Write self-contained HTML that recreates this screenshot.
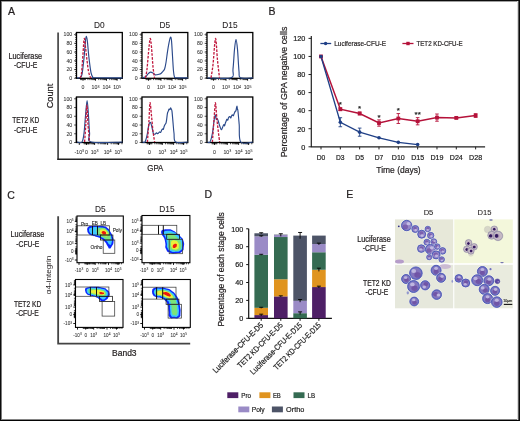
<!DOCTYPE html>
<html><head><meta charset="utf-8"><style>
html,body{margin:0;padding:0;background:#fff;}
svg{display:block;font-family:"Liberation Sans", sans-serif;will-change:transform;}
</style></head><body>
<svg width="520" height="421" viewBox="0 0 520 421">
<rect x="0" y="0" width="520" height="421" fill="#fff"/>
<text x="8.00" y="14.80" font-size="10.5" text-anchor="start" fill="#231f20" stroke="#231f20" stroke-width="0.22" >A</text>
<text x="99.40" y="27.80" font-size="8.3" text-anchor="middle" fill="#231f20" stroke="#231f20" stroke-width="0.08" >D0</text>
<text x="164.90" y="27.80" font-size="8.3" text-anchor="middle" fill="#231f20" stroke="#231f20" stroke-width="0.08" >D5</text>
<text x="229.90" y="27.80" font-size="8.3" text-anchor="middle" fill="#231f20" stroke="#231f20" stroke-width="0.08" >D15</text>
<text x="25.30" y="58.50" font-size="8.2" text-anchor="middle" fill="#231f20" stroke="#231f20" stroke-width="0.22" textLength="33.60" lengthAdjust="spacingAndGlyphs" >Luciferase</text>
<text x="25.70" y="68.40" font-size="8.2" text-anchor="middle" fill="#231f20" stroke="#231f20" stroke-width="0.22" textLength="23.20" lengthAdjust="spacingAndGlyphs" >-CFU-E</text>
<text x="25.70" y="123.00" font-size="8.2" text-anchor="middle" fill="#231f20" stroke="#231f20" stroke-width="0.22" textLength="27.00" lengthAdjust="spacingAndGlyphs" >TET2 KD</text>
<text x="25.70" y="132.90" font-size="8.2" text-anchor="middle" fill="#231f20" stroke="#231f20" stroke-width="0.22" textLength="23.20" lengthAdjust="spacingAndGlyphs" >-CFU-E</text>
<text x="53.40" y="96.00" font-size="9.2" text-anchor="middle" fill="#231f20" stroke="#231f20" stroke-width="0.22" transform="rotate(-90 53.40 96.00)" >Count</text>
<line x1="58.10" y1="32.50" x2="58.10" y2="159.90" stroke="#505050" stroke-width="1.8" />
<line x1="57.40" y1="159.20" x2="252.80" y2="159.20" stroke="#202020" stroke-width="1.4" />
<text x="155.30" y="171.00" font-size="9.2" text-anchor="middle" fill="#231f20" stroke="#231f20" stroke-width="0.22" textLength="16.00" lengthAdjust="spacingAndGlyphs" >GPA</text>
<text x="72.20" y="36.40" font-size="5.2" text-anchor="end" fill="#333" stroke="#333" stroke-width="0.06" >100</text>
<line x1="74.10" y1="34.60" x2="76.50" y2="34.60" stroke="#111" stroke-width="0.7" />
<text x="72.20" y="45.14" font-size="5.2" text-anchor="end" fill="#333" stroke="#333" stroke-width="0.06" >80</text>
<line x1="74.10" y1="43.34" x2="76.50" y2="43.34" stroke="#111" stroke-width="0.7" />
<text x="72.20" y="53.88" font-size="5.2" text-anchor="end" fill="#333" stroke="#333" stroke-width="0.06" >60</text>
<line x1="74.10" y1="52.08" x2="76.50" y2="52.08" stroke="#111" stroke-width="0.7" />
<text x="72.20" y="62.62" font-size="5.2" text-anchor="end" fill="#333" stroke="#333" stroke-width="0.06" >40</text>
<line x1="74.10" y1="60.82" x2="76.50" y2="60.82" stroke="#111" stroke-width="0.7" />
<text x="72.20" y="71.36" font-size="5.2" text-anchor="end" fill="#333" stroke="#333" stroke-width="0.06" >20</text>
<line x1="74.10" y1="69.56" x2="76.50" y2="69.56" stroke="#111" stroke-width="0.7" />
<text x="72.20" y="80.10" font-size="5.2" text-anchor="end" fill="#333" stroke="#333" stroke-width="0.06" >0</text>
<line x1="74.10" y1="78.30" x2="76.50" y2="78.30" stroke="#111" stroke-width="0.7" />
<line x1="75.00" y1="33.50" x2="76.50" y2="33.50" stroke="#111" stroke-width="0.55" />
<line x1="75.00" y1="35.50" x2="76.50" y2="35.50" stroke="#111" stroke-width="0.55" />
<line x1="75.00" y1="37.50" x2="76.50" y2="37.50" stroke="#111" stroke-width="0.55" />
<line x1="75.00" y1="39.50" x2="76.50" y2="39.50" stroke="#111" stroke-width="0.55" />
<line x1="75.00" y1="41.50" x2="76.50" y2="41.50" stroke="#111" stroke-width="0.55" />
<line x1="75.00" y1="43.50" x2="76.50" y2="43.50" stroke="#111" stroke-width="0.55" />
<line x1="75.00" y1="45.50" x2="76.50" y2="45.50" stroke="#111" stroke-width="0.55" />
<line x1="75.00" y1="47.50" x2="76.50" y2="47.50" stroke="#111" stroke-width="0.55" />
<line x1="75.00" y1="49.50" x2="76.50" y2="49.50" stroke="#111" stroke-width="0.55" />
<line x1="75.00" y1="51.50" x2="76.50" y2="51.50" stroke="#111" stroke-width="0.55" />
<line x1="75.00" y1="53.50" x2="76.50" y2="53.50" stroke="#111" stroke-width="0.55" />
<line x1="75.00" y1="55.50" x2="76.50" y2="55.50" stroke="#111" stroke-width="0.55" />
<line x1="75.00" y1="57.50" x2="76.50" y2="57.50" stroke="#111" stroke-width="0.55" />
<line x1="75.00" y1="59.50" x2="76.50" y2="59.50" stroke="#111" stroke-width="0.55" />
<line x1="75.00" y1="61.50" x2="76.50" y2="61.50" stroke="#111" stroke-width="0.55" />
<line x1="75.00" y1="63.50" x2="76.50" y2="63.50" stroke="#111" stroke-width="0.55" />
<line x1="75.00" y1="65.50" x2="76.50" y2="65.50" stroke="#111" stroke-width="0.55" />
<line x1="75.00" y1="67.50" x2="76.50" y2="67.50" stroke="#111" stroke-width="0.55" />
<line x1="75.00" y1="69.50" x2="76.50" y2="69.50" stroke="#111" stroke-width="0.55" />
<line x1="75.00" y1="71.50" x2="76.50" y2="71.50" stroke="#111" stroke-width="0.55" />
<line x1="75.00" y1="73.50" x2="76.50" y2="73.50" stroke="#111" stroke-width="0.55" />
<line x1="75.00" y1="75.50" x2="76.50" y2="75.50" stroke="#111" stroke-width="0.55" />
<line x1="75.00" y1="77.50" x2="76.50" y2="77.50" stroke="#111" stroke-width="0.55" />
<line x1="83.00" y1="78.30" x2="83.00" y2="80.70" stroke="#000" stroke-width="0.9" />
<line x1="80.60" y1="78.30" x2="80.60" y2="80.10" stroke="#000" stroke-width="0.7" />
<line x1="81.40" y1="78.30" x2="81.40" y2="80.10" stroke="#000" stroke-width="0.7" />
<line x1="82.20" y1="78.30" x2="82.20" y2="80.10" stroke="#000" stroke-width="0.7" />
<line x1="83.80" y1="78.30" x2="83.80" y2="80.10" stroke="#000" stroke-width="0.7" />
<line x1="84.60" y1="78.30" x2="84.60" y2="80.10" stroke="#000" stroke-width="0.7" />
<line x1="85.40" y1="78.30" x2="85.40" y2="80.10" stroke="#000" stroke-width="0.7" />
<line x1="95.50" y1="78.30" x2="95.50" y2="80.70" stroke="#000" stroke-width="0.9" />
<line x1="106.50" y1="78.30" x2="106.50" y2="80.70" stroke="#000" stroke-width="0.9" />
<line x1="117.10" y1="78.30" x2="117.10" y2="80.70" stroke="#000" stroke-width="0.9" />
<line x1="87.95" y1="78.30" x2="87.95" y2="80.10" stroke="#000" stroke-width="0.7" />
<line x1="89.85" y1="78.30" x2="89.85" y2="80.10" stroke="#000" stroke-width="0.7" />
<line x1="91.20" y1="78.30" x2="91.20" y2="80.10" stroke="#000" stroke-width="0.7" />
<line x1="92.25" y1="78.30" x2="92.25" y2="80.10" stroke="#000" stroke-width="0.7" />
<line x1="93.10" y1="78.30" x2="93.10" y2="80.10" stroke="#000" stroke-width="0.7" />
<line x1="93.83" y1="78.30" x2="93.83" y2="80.10" stroke="#000" stroke-width="0.7" />
<line x1="94.45" y1="78.30" x2="94.45" y2="80.10" stroke="#000" stroke-width="0.7" />
<line x1="95.01" y1="78.30" x2="95.01" y2="80.10" stroke="#000" stroke-width="0.7" />
<line x1="98.75" y1="78.30" x2="98.75" y2="80.10" stroke="#000" stroke-width="0.7" />
<line x1="100.65" y1="78.30" x2="100.65" y2="80.10" stroke="#000" stroke-width="0.7" />
<line x1="102.00" y1="78.30" x2="102.00" y2="80.10" stroke="#000" stroke-width="0.7" />
<line x1="103.05" y1="78.30" x2="103.05" y2="80.10" stroke="#000" stroke-width="0.7" />
<line x1="103.90" y1="78.30" x2="103.90" y2="80.10" stroke="#000" stroke-width="0.7" />
<line x1="104.63" y1="78.30" x2="104.63" y2="80.10" stroke="#000" stroke-width="0.7" />
<line x1="105.25" y1="78.30" x2="105.25" y2="80.10" stroke="#000" stroke-width="0.7" />
<line x1="105.81" y1="78.30" x2="105.81" y2="80.10" stroke="#000" stroke-width="0.7" />
<line x1="109.75" y1="78.30" x2="109.75" y2="80.10" stroke="#000" stroke-width="0.7" />
<line x1="111.65" y1="78.30" x2="111.65" y2="80.10" stroke="#000" stroke-width="0.7" />
<line x1="113.00" y1="78.30" x2="113.00" y2="80.10" stroke="#000" stroke-width="0.7" />
<line x1="114.05" y1="78.30" x2="114.05" y2="80.10" stroke="#000" stroke-width="0.7" />
<line x1="114.90" y1="78.30" x2="114.90" y2="80.10" stroke="#000" stroke-width="0.7" />
<line x1="115.63" y1="78.30" x2="115.63" y2="80.10" stroke="#000" stroke-width="0.7" />
<line x1="116.25" y1="78.30" x2="116.25" y2="80.10" stroke="#000" stroke-width="0.7" />
<line x1="116.81" y1="78.30" x2="116.81" y2="80.10" stroke="#000" stroke-width="0.7" />
<line x1="120.35" y1="78.30" x2="120.35" y2="80.10" stroke="#000" stroke-width="0.7" />
<text x="83.00" y="89.30" font-size="5.2" text-anchor="middle" fill="#333" stroke="#333" stroke-width="0.06" >0</text>
<text x="95.50" y="89.30" font-size="5.2" text-anchor="middle" fill="#333" stroke="#333" stroke-width="0.06" >10<tspan font-size="70%" dy="-1.6">3</tspan></text>
<text x="106.50" y="89.30" font-size="5.2" text-anchor="middle" fill="#333" stroke="#333" stroke-width="0.06" >10<tspan font-size="70%" dy="-1.6">4</tspan></text>
<text x="117.10" y="89.30" font-size="5.2" text-anchor="middle" fill="#333" stroke="#333" stroke-width="0.06" >10<tspan font-size="70%" dy="-1.6">5</tspan></text>
<rect x="76.50" y="32.50" width="45.80" height="45.80" fill="none" stroke="#000" stroke-width="1.3" />
<path d="M77.00,77.80 C77.50,77.76 79.17,78.16 80.00,77.58 C80.83,77.00 81.33,77.55 82.00,74.30 C82.67,71.06 83.42,63.74 84.00,58.13 C84.58,52.53 85.12,44.30 85.50,40.65 C85.88,37.01 86.00,36.28 86.30,36.28 C86.60,36.28 86.85,37.01 87.30,40.65 C87.75,44.30 88.38,52.82 89.00,58.13 C89.62,63.45 90.33,69.35 91.00,72.56 C91.67,75.76 92.33,76.49 93.00,77.36 C93.67,78.24 90.08,77.73 95.00,77.80 C99.92,77.87 117.92,77.80 122.50,77.80" fill="none" stroke="#2b4a8b" stroke-width="1.15"/>
<path d="M80.00,77.80 C80.25,77.07 81.00,77.44 81.50,73.43 C82.00,69.42 82.55,59.59 83.00,53.77 C83.45,47.94 83.78,39.56 84.20,38.47 C84.62,37.38 85.03,43.57 85.50,47.21 C85.97,50.85 86.50,56.31 87.00,60.32 C87.50,64.33 88.00,68.55 88.50,71.25 C89.00,73.94 89.58,75.40 90.00,76.49 C90.42,77.58 90.83,77.58 91.00,77.80" fill="none" stroke="#c0163c" stroke-width="1.3" stroke-dasharray="2.6 1.3"/>
<text x="137.70" y="36.40" font-size="5.2" text-anchor="end" fill="#333" stroke="#333" stroke-width="0.06" >100</text>
<line x1="139.60" y1="34.60" x2="142.00" y2="34.60" stroke="#111" stroke-width="0.7" />
<text x="137.70" y="45.14" font-size="5.2" text-anchor="end" fill="#333" stroke="#333" stroke-width="0.06" >80</text>
<line x1="139.60" y1="43.34" x2="142.00" y2="43.34" stroke="#111" stroke-width="0.7" />
<text x="137.70" y="53.88" font-size="5.2" text-anchor="end" fill="#333" stroke="#333" stroke-width="0.06" >60</text>
<line x1="139.60" y1="52.08" x2="142.00" y2="52.08" stroke="#111" stroke-width="0.7" />
<text x="137.70" y="62.62" font-size="5.2" text-anchor="end" fill="#333" stroke="#333" stroke-width="0.06" >40</text>
<line x1="139.60" y1="60.82" x2="142.00" y2="60.82" stroke="#111" stroke-width="0.7" />
<text x="137.70" y="71.36" font-size="5.2" text-anchor="end" fill="#333" stroke="#333" stroke-width="0.06" >20</text>
<line x1="139.60" y1="69.56" x2="142.00" y2="69.56" stroke="#111" stroke-width="0.7" />
<text x="137.70" y="80.10" font-size="5.2" text-anchor="end" fill="#333" stroke="#333" stroke-width="0.06" >0</text>
<line x1="139.60" y1="78.30" x2="142.00" y2="78.30" stroke="#111" stroke-width="0.7" />
<line x1="140.50" y1="33.50" x2="142.00" y2="33.50" stroke="#111" stroke-width="0.55" />
<line x1="140.50" y1="35.50" x2="142.00" y2="35.50" stroke="#111" stroke-width="0.55" />
<line x1="140.50" y1="37.50" x2="142.00" y2="37.50" stroke="#111" stroke-width="0.55" />
<line x1="140.50" y1="39.50" x2="142.00" y2="39.50" stroke="#111" stroke-width="0.55" />
<line x1="140.50" y1="41.50" x2="142.00" y2="41.50" stroke="#111" stroke-width="0.55" />
<line x1="140.50" y1="43.50" x2="142.00" y2="43.50" stroke="#111" stroke-width="0.55" />
<line x1="140.50" y1="45.50" x2="142.00" y2="45.50" stroke="#111" stroke-width="0.55" />
<line x1="140.50" y1="47.50" x2="142.00" y2="47.50" stroke="#111" stroke-width="0.55" />
<line x1="140.50" y1="49.50" x2="142.00" y2="49.50" stroke="#111" stroke-width="0.55" />
<line x1="140.50" y1="51.50" x2="142.00" y2="51.50" stroke="#111" stroke-width="0.55" />
<line x1="140.50" y1="53.50" x2="142.00" y2="53.50" stroke="#111" stroke-width="0.55" />
<line x1="140.50" y1="55.50" x2="142.00" y2="55.50" stroke="#111" stroke-width="0.55" />
<line x1="140.50" y1="57.50" x2="142.00" y2="57.50" stroke="#111" stroke-width="0.55" />
<line x1="140.50" y1="59.50" x2="142.00" y2="59.50" stroke="#111" stroke-width="0.55" />
<line x1="140.50" y1="61.50" x2="142.00" y2="61.50" stroke="#111" stroke-width="0.55" />
<line x1="140.50" y1="63.50" x2="142.00" y2="63.50" stroke="#111" stroke-width="0.55" />
<line x1="140.50" y1="65.50" x2="142.00" y2="65.50" stroke="#111" stroke-width="0.55" />
<line x1="140.50" y1="67.50" x2="142.00" y2="67.50" stroke="#111" stroke-width="0.55" />
<line x1="140.50" y1="69.50" x2="142.00" y2="69.50" stroke="#111" stroke-width="0.55" />
<line x1="140.50" y1="71.50" x2="142.00" y2="71.50" stroke="#111" stroke-width="0.55" />
<line x1="140.50" y1="73.50" x2="142.00" y2="73.50" stroke="#111" stroke-width="0.55" />
<line x1="140.50" y1="75.50" x2="142.00" y2="75.50" stroke="#111" stroke-width="0.55" />
<line x1="140.50" y1="77.50" x2="142.00" y2="77.50" stroke="#111" stroke-width="0.55" />
<line x1="148.50" y1="78.30" x2="148.50" y2="80.70" stroke="#000" stroke-width="0.9" />
<line x1="146.10" y1="78.30" x2="146.10" y2="80.10" stroke="#000" stroke-width="0.7" />
<line x1="146.90" y1="78.30" x2="146.90" y2="80.10" stroke="#000" stroke-width="0.7" />
<line x1="147.70" y1="78.30" x2="147.70" y2="80.10" stroke="#000" stroke-width="0.7" />
<line x1="149.30" y1="78.30" x2="149.30" y2="80.10" stroke="#000" stroke-width="0.7" />
<line x1="150.10" y1="78.30" x2="150.10" y2="80.10" stroke="#000" stroke-width="0.7" />
<line x1="150.90" y1="78.30" x2="150.90" y2="80.10" stroke="#000" stroke-width="0.7" />
<line x1="161.00" y1="78.30" x2="161.00" y2="80.70" stroke="#000" stroke-width="0.9" />
<line x1="172.00" y1="78.30" x2="172.00" y2="80.70" stroke="#000" stroke-width="0.9" />
<line x1="182.60" y1="78.30" x2="182.60" y2="80.70" stroke="#000" stroke-width="0.9" />
<line x1="153.45" y1="78.30" x2="153.45" y2="80.10" stroke="#000" stroke-width="0.7" />
<line x1="155.35" y1="78.30" x2="155.35" y2="80.10" stroke="#000" stroke-width="0.7" />
<line x1="156.70" y1="78.30" x2="156.70" y2="80.10" stroke="#000" stroke-width="0.7" />
<line x1="157.75" y1="78.30" x2="157.75" y2="80.10" stroke="#000" stroke-width="0.7" />
<line x1="158.60" y1="78.30" x2="158.60" y2="80.10" stroke="#000" stroke-width="0.7" />
<line x1="159.33" y1="78.30" x2="159.33" y2="80.10" stroke="#000" stroke-width="0.7" />
<line x1="159.95" y1="78.30" x2="159.95" y2="80.10" stroke="#000" stroke-width="0.7" />
<line x1="160.51" y1="78.30" x2="160.51" y2="80.10" stroke="#000" stroke-width="0.7" />
<line x1="164.25" y1="78.30" x2="164.25" y2="80.10" stroke="#000" stroke-width="0.7" />
<line x1="166.15" y1="78.30" x2="166.15" y2="80.10" stroke="#000" stroke-width="0.7" />
<line x1="167.50" y1="78.30" x2="167.50" y2="80.10" stroke="#000" stroke-width="0.7" />
<line x1="168.55" y1="78.30" x2="168.55" y2="80.10" stroke="#000" stroke-width="0.7" />
<line x1="169.40" y1="78.30" x2="169.40" y2="80.10" stroke="#000" stroke-width="0.7" />
<line x1="170.13" y1="78.30" x2="170.13" y2="80.10" stroke="#000" stroke-width="0.7" />
<line x1="170.75" y1="78.30" x2="170.75" y2="80.10" stroke="#000" stroke-width="0.7" />
<line x1="171.31" y1="78.30" x2="171.31" y2="80.10" stroke="#000" stroke-width="0.7" />
<line x1="175.25" y1="78.30" x2="175.25" y2="80.10" stroke="#000" stroke-width="0.7" />
<line x1="177.15" y1="78.30" x2="177.15" y2="80.10" stroke="#000" stroke-width="0.7" />
<line x1="178.50" y1="78.30" x2="178.50" y2="80.10" stroke="#000" stroke-width="0.7" />
<line x1="179.55" y1="78.30" x2="179.55" y2="80.10" stroke="#000" stroke-width="0.7" />
<line x1="180.40" y1="78.30" x2="180.40" y2="80.10" stroke="#000" stroke-width="0.7" />
<line x1="181.13" y1="78.30" x2="181.13" y2="80.10" stroke="#000" stroke-width="0.7" />
<line x1="181.75" y1="78.30" x2="181.75" y2="80.10" stroke="#000" stroke-width="0.7" />
<line x1="182.31" y1="78.30" x2="182.31" y2="80.10" stroke="#000" stroke-width="0.7" />
<line x1="185.85" y1="78.30" x2="185.85" y2="80.10" stroke="#000" stroke-width="0.7" />
<text x="148.50" y="89.30" font-size="5.2" text-anchor="middle" fill="#333" stroke="#333" stroke-width="0.06" >0</text>
<text x="161.00" y="89.30" font-size="5.2" text-anchor="middle" fill="#333" stroke="#333" stroke-width="0.06" >10<tspan font-size="70%" dy="-1.6">3</tspan></text>
<text x="172.00" y="89.30" font-size="5.2" text-anchor="middle" fill="#333" stroke="#333" stroke-width="0.06" >10<tspan font-size="70%" dy="-1.6">4</tspan></text>
<text x="182.60" y="89.30" font-size="5.2" text-anchor="middle" fill="#333" stroke="#333" stroke-width="0.06" >10<tspan font-size="70%" dy="-1.6">5</tspan></text>
<rect x="142.00" y="32.50" width="45.80" height="45.80" fill="none" stroke="#000" stroke-width="1.3" />
<path d="M142.50,77.80 C143.08,77.58 145.08,77.14 146.00,76.49 C146.92,75.83 147.25,74.60 148.00,73.87 C148.75,73.14 149.67,72.26 150.50,72.12 C151.33,71.97 152.25,72.56 153.00,72.99 C153.75,73.43 154.33,74.45 155.00,74.74 C155.67,75.03 156.33,74.81 157.00,74.74 C157.67,74.67 158.33,74.52 159.00,74.30 C159.67,74.09 160.33,73.94 161.00,73.43 C161.67,72.92 162.40,71.97 163.00,71.25 C163.60,70.52 164.10,70.52 164.60,69.06 C165.10,67.60 165.52,65.42 166.00,62.50 C166.48,59.59 167.00,54.86 167.50,51.58 C168.00,48.30 168.50,45.24 169.00,42.84 C169.50,40.44 170.08,37.52 170.50,37.16 C170.92,36.79 171.17,37.52 171.50,40.65 C171.83,43.79 172.17,50.85 172.50,55.95 C172.83,61.05 173.17,67.75 173.50,71.25 C173.83,74.74 174.08,75.83 174.50,76.93 C174.92,78.02 173.78,77.65 176.00,77.80 C178.22,77.95 185.83,77.80 187.80,77.80" fill="none" stroke="#2b4a8b" stroke-width="1.15"/>
<path d="M145.50,77.80 C145.75,76.34 146.42,74.16 147.00,69.06 C147.58,63.96 148.45,52.31 149.00,47.21 C149.55,42.11 149.88,38.47 150.30,38.47 C150.72,38.47 151.05,42.48 151.50,47.21 C151.95,51.94 152.50,61.78 153.00,66.88 C153.50,71.97 154.25,75.98 154.50,77.80" fill="none" stroke="#c0163c" stroke-width="1.3" stroke-dasharray="2.6 1.3"/>
<text x="202.70" y="36.40" font-size="5.2" text-anchor="end" fill="#333" stroke="#333" stroke-width="0.06" >100</text>
<line x1="204.60" y1="34.60" x2="207.00" y2="34.60" stroke="#111" stroke-width="0.7" />
<text x="202.70" y="45.14" font-size="5.2" text-anchor="end" fill="#333" stroke="#333" stroke-width="0.06" >80</text>
<line x1="204.60" y1="43.34" x2="207.00" y2="43.34" stroke="#111" stroke-width="0.7" />
<text x="202.70" y="53.88" font-size="5.2" text-anchor="end" fill="#333" stroke="#333" stroke-width="0.06" >60</text>
<line x1="204.60" y1="52.08" x2="207.00" y2="52.08" stroke="#111" stroke-width="0.7" />
<text x="202.70" y="62.62" font-size="5.2" text-anchor="end" fill="#333" stroke="#333" stroke-width="0.06" >40</text>
<line x1="204.60" y1="60.82" x2="207.00" y2="60.82" stroke="#111" stroke-width="0.7" />
<text x="202.70" y="71.36" font-size="5.2" text-anchor="end" fill="#333" stroke="#333" stroke-width="0.06" >20</text>
<line x1="204.60" y1="69.56" x2="207.00" y2="69.56" stroke="#111" stroke-width="0.7" />
<text x="202.70" y="80.10" font-size="5.2" text-anchor="end" fill="#333" stroke="#333" stroke-width="0.06" >0</text>
<line x1="204.60" y1="78.30" x2="207.00" y2="78.30" stroke="#111" stroke-width="0.7" />
<line x1="205.50" y1="33.50" x2="207.00" y2="33.50" stroke="#111" stroke-width="0.55" />
<line x1="205.50" y1="35.50" x2="207.00" y2="35.50" stroke="#111" stroke-width="0.55" />
<line x1="205.50" y1="37.50" x2="207.00" y2="37.50" stroke="#111" stroke-width="0.55" />
<line x1="205.50" y1="39.50" x2="207.00" y2="39.50" stroke="#111" stroke-width="0.55" />
<line x1="205.50" y1="41.50" x2="207.00" y2="41.50" stroke="#111" stroke-width="0.55" />
<line x1="205.50" y1="43.50" x2="207.00" y2="43.50" stroke="#111" stroke-width="0.55" />
<line x1="205.50" y1="45.50" x2="207.00" y2="45.50" stroke="#111" stroke-width="0.55" />
<line x1="205.50" y1="47.50" x2="207.00" y2="47.50" stroke="#111" stroke-width="0.55" />
<line x1="205.50" y1="49.50" x2="207.00" y2="49.50" stroke="#111" stroke-width="0.55" />
<line x1="205.50" y1="51.50" x2="207.00" y2="51.50" stroke="#111" stroke-width="0.55" />
<line x1="205.50" y1="53.50" x2="207.00" y2="53.50" stroke="#111" stroke-width="0.55" />
<line x1="205.50" y1="55.50" x2="207.00" y2="55.50" stroke="#111" stroke-width="0.55" />
<line x1="205.50" y1="57.50" x2="207.00" y2="57.50" stroke="#111" stroke-width="0.55" />
<line x1="205.50" y1="59.50" x2="207.00" y2="59.50" stroke="#111" stroke-width="0.55" />
<line x1="205.50" y1="61.50" x2="207.00" y2="61.50" stroke="#111" stroke-width="0.55" />
<line x1="205.50" y1="63.50" x2="207.00" y2="63.50" stroke="#111" stroke-width="0.55" />
<line x1="205.50" y1="65.50" x2="207.00" y2="65.50" stroke="#111" stroke-width="0.55" />
<line x1="205.50" y1="67.50" x2="207.00" y2="67.50" stroke="#111" stroke-width="0.55" />
<line x1="205.50" y1="69.50" x2="207.00" y2="69.50" stroke="#111" stroke-width="0.55" />
<line x1="205.50" y1="71.50" x2="207.00" y2="71.50" stroke="#111" stroke-width="0.55" />
<line x1="205.50" y1="73.50" x2="207.00" y2="73.50" stroke="#111" stroke-width="0.55" />
<line x1="205.50" y1="75.50" x2="207.00" y2="75.50" stroke="#111" stroke-width="0.55" />
<line x1="205.50" y1="77.50" x2="207.00" y2="77.50" stroke="#111" stroke-width="0.55" />
<line x1="213.50" y1="78.30" x2="213.50" y2="80.70" stroke="#000" stroke-width="0.9" />
<line x1="211.10" y1="78.30" x2="211.10" y2="80.10" stroke="#000" stroke-width="0.7" />
<line x1="211.90" y1="78.30" x2="211.90" y2="80.10" stroke="#000" stroke-width="0.7" />
<line x1="212.70" y1="78.30" x2="212.70" y2="80.10" stroke="#000" stroke-width="0.7" />
<line x1="214.30" y1="78.30" x2="214.30" y2="80.10" stroke="#000" stroke-width="0.7" />
<line x1="215.10" y1="78.30" x2="215.10" y2="80.10" stroke="#000" stroke-width="0.7" />
<line x1="215.90" y1="78.30" x2="215.90" y2="80.10" stroke="#000" stroke-width="0.7" />
<line x1="226.00" y1="78.30" x2="226.00" y2="80.70" stroke="#000" stroke-width="0.9" />
<line x1="237.00" y1="78.30" x2="237.00" y2="80.70" stroke="#000" stroke-width="0.9" />
<line x1="247.60" y1="78.30" x2="247.60" y2="80.70" stroke="#000" stroke-width="0.9" />
<line x1="218.45" y1="78.30" x2="218.45" y2="80.10" stroke="#000" stroke-width="0.7" />
<line x1="220.35" y1="78.30" x2="220.35" y2="80.10" stroke="#000" stroke-width="0.7" />
<line x1="221.70" y1="78.30" x2="221.70" y2="80.10" stroke="#000" stroke-width="0.7" />
<line x1="222.75" y1="78.30" x2="222.75" y2="80.10" stroke="#000" stroke-width="0.7" />
<line x1="223.60" y1="78.30" x2="223.60" y2="80.10" stroke="#000" stroke-width="0.7" />
<line x1="224.33" y1="78.30" x2="224.33" y2="80.10" stroke="#000" stroke-width="0.7" />
<line x1="224.95" y1="78.30" x2="224.95" y2="80.10" stroke="#000" stroke-width="0.7" />
<line x1="225.51" y1="78.30" x2="225.51" y2="80.10" stroke="#000" stroke-width="0.7" />
<line x1="229.25" y1="78.30" x2="229.25" y2="80.10" stroke="#000" stroke-width="0.7" />
<line x1="231.15" y1="78.30" x2="231.15" y2="80.10" stroke="#000" stroke-width="0.7" />
<line x1="232.50" y1="78.30" x2="232.50" y2="80.10" stroke="#000" stroke-width="0.7" />
<line x1="233.55" y1="78.30" x2="233.55" y2="80.10" stroke="#000" stroke-width="0.7" />
<line x1="234.40" y1="78.30" x2="234.40" y2="80.10" stroke="#000" stroke-width="0.7" />
<line x1="235.13" y1="78.30" x2="235.13" y2="80.10" stroke="#000" stroke-width="0.7" />
<line x1="235.75" y1="78.30" x2="235.75" y2="80.10" stroke="#000" stroke-width="0.7" />
<line x1="236.31" y1="78.30" x2="236.31" y2="80.10" stroke="#000" stroke-width="0.7" />
<line x1="240.25" y1="78.30" x2="240.25" y2="80.10" stroke="#000" stroke-width="0.7" />
<line x1="242.15" y1="78.30" x2="242.15" y2="80.10" stroke="#000" stroke-width="0.7" />
<line x1="243.50" y1="78.30" x2="243.50" y2="80.10" stroke="#000" stroke-width="0.7" />
<line x1="244.55" y1="78.30" x2="244.55" y2="80.10" stroke="#000" stroke-width="0.7" />
<line x1="245.40" y1="78.30" x2="245.40" y2="80.10" stroke="#000" stroke-width="0.7" />
<line x1="246.13" y1="78.30" x2="246.13" y2="80.10" stroke="#000" stroke-width="0.7" />
<line x1="246.75" y1="78.30" x2="246.75" y2="80.10" stroke="#000" stroke-width="0.7" />
<line x1="247.31" y1="78.30" x2="247.31" y2="80.10" stroke="#000" stroke-width="0.7" />
<line x1="250.85" y1="78.30" x2="250.85" y2="80.10" stroke="#000" stroke-width="0.7" />
<text x="213.50" y="89.30" font-size="5.2" text-anchor="middle" fill="#333" stroke="#333" stroke-width="0.06" >0</text>
<text x="226.00" y="89.30" font-size="5.2" text-anchor="middle" fill="#333" stroke="#333" stroke-width="0.06" >10<tspan font-size="70%" dy="-1.6">3</tspan></text>
<text x="237.00" y="89.30" font-size="5.2" text-anchor="middle" fill="#333" stroke="#333" stroke-width="0.06" >10<tspan font-size="70%" dy="-1.6">4</tspan></text>
<text x="247.60" y="89.30" font-size="5.2" text-anchor="middle" fill="#333" stroke="#333" stroke-width="0.06" >10<tspan font-size="70%" dy="-1.6">5</tspan></text>
<rect x="207.00" y="32.50" width="45.80" height="45.80" fill="none" stroke="#000" stroke-width="1.3" />
<path d="M207.50,77.80 C211.42,77.80 226.75,79.26 231.00,77.80 C235.25,76.34 232.42,73.79 233.00,69.06 C233.58,64.33 234.00,54.35 234.50,49.39 C235.00,44.44 235.50,39.34 236.00,39.34 C236.50,39.34 237.00,44.08 237.50,49.39 C238.00,54.71 238.50,66.51 239.00,71.25 C239.50,75.98 238.20,76.71 240.50,77.80 C242.80,78.89 250.75,77.80 252.80,77.80" fill="none" stroke="#2b4a8b" stroke-width="1.15"/>
<path d="M211.00,77.80 C211.33,75.61 212.25,71.25 213.00,64.69 C213.75,58.13 214.75,39.20 215.50,38.47 C216.25,37.74 216.83,53.76 217.50,60.32 C218.17,66.88 219.17,74.89 219.50,77.80" fill="none" stroke="#c0163c" stroke-width="1.3" stroke-dasharray="2.6 1.3"/>
<text x="72.20" y="100.60" font-size="5.2" text-anchor="end" fill="#333" stroke="#333" stroke-width="0.06" >100</text>
<line x1="74.10" y1="98.80" x2="76.50" y2="98.80" stroke="#111" stroke-width="0.7" />
<text x="72.20" y="109.34" font-size="5.2" text-anchor="end" fill="#333" stroke="#333" stroke-width="0.06" >80</text>
<line x1="74.10" y1="107.54" x2="76.50" y2="107.54" stroke="#111" stroke-width="0.7" />
<text x="72.20" y="118.08" font-size="5.2" text-anchor="end" fill="#333" stroke="#333" stroke-width="0.06" >60</text>
<line x1="74.10" y1="116.28" x2="76.50" y2="116.28" stroke="#111" stroke-width="0.7" />
<text x="72.20" y="126.82" font-size="5.2" text-anchor="end" fill="#333" stroke="#333" stroke-width="0.06" >40</text>
<line x1="74.10" y1="125.02" x2="76.50" y2="125.02" stroke="#111" stroke-width="0.7" />
<text x="72.20" y="135.56" font-size="5.2" text-anchor="end" fill="#333" stroke="#333" stroke-width="0.06" >20</text>
<line x1="74.10" y1="133.76" x2="76.50" y2="133.76" stroke="#111" stroke-width="0.7" />
<text x="72.20" y="144.30" font-size="5.2" text-anchor="end" fill="#333" stroke="#333" stroke-width="0.06" >0</text>
<line x1="74.10" y1="142.50" x2="76.50" y2="142.50" stroke="#111" stroke-width="0.7" />
<line x1="75.00" y1="98.00" x2="76.50" y2="98.00" stroke="#111" stroke-width="0.55" />
<line x1="75.00" y1="100.00" x2="76.50" y2="100.00" stroke="#111" stroke-width="0.55" />
<line x1="75.00" y1="102.00" x2="76.50" y2="102.00" stroke="#111" stroke-width="0.55" />
<line x1="75.00" y1="104.00" x2="76.50" y2="104.00" stroke="#111" stroke-width="0.55" />
<line x1="75.00" y1="106.00" x2="76.50" y2="106.00" stroke="#111" stroke-width="0.55" />
<line x1="75.00" y1="108.00" x2="76.50" y2="108.00" stroke="#111" stroke-width="0.55" />
<line x1="75.00" y1="110.00" x2="76.50" y2="110.00" stroke="#111" stroke-width="0.55" />
<line x1="75.00" y1="112.00" x2="76.50" y2="112.00" stroke="#111" stroke-width="0.55" />
<line x1="75.00" y1="114.00" x2="76.50" y2="114.00" stroke="#111" stroke-width="0.55" />
<line x1="75.00" y1="116.00" x2="76.50" y2="116.00" stroke="#111" stroke-width="0.55" />
<line x1="75.00" y1="118.00" x2="76.50" y2="118.00" stroke="#111" stroke-width="0.55" />
<line x1="75.00" y1="120.00" x2="76.50" y2="120.00" stroke="#111" stroke-width="0.55" />
<line x1="75.00" y1="122.00" x2="76.50" y2="122.00" stroke="#111" stroke-width="0.55" />
<line x1="75.00" y1="124.00" x2="76.50" y2="124.00" stroke="#111" stroke-width="0.55" />
<line x1="75.00" y1="126.00" x2="76.50" y2="126.00" stroke="#111" stroke-width="0.55" />
<line x1="75.00" y1="128.00" x2="76.50" y2="128.00" stroke="#111" stroke-width="0.55" />
<line x1="75.00" y1="130.00" x2="76.50" y2="130.00" stroke="#111" stroke-width="0.55" />
<line x1="75.00" y1="132.00" x2="76.50" y2="132.00" stroke="#111" stroke-width="0.55" />
<line x1="75.00" y1="134.00" x2="76.50" y2="134.00" stroke="#111" stroke-width="0.55" />
<line x1="75.00" y1="136.00" x2="76.50" y2="136.00" stroke="#111" stroke-width="0.55" />
<line x1="75.00" y1="138.00" x2="76.50" y2="138.00" stroke="#111" stroke-width="0.55" />
<line x1="75.00" y1="140.00" x2="76.50" y2="140.00" stroke="#111" stroke-width="0.55" />
<line x1="75.00" y1="142.00" x2="76.50" y2="142.00" stroke="#111" stroke-width="0.55" />
<line x1="79.30" y1="142.50" x2="79.30" y2="144.90" stroke="#000" stroke-width="0.9" />
<line x1="86.50" y1="142.50" x2="86.50" y2="144.90" stroke="#000" stroke-width="0.9" />
<line x1="84.10" y1="142.50" x2="84.10" y2="144.30" stroke="#000" stroke-width="0.7" />
<line x1="84.90" y1="142.50" x2="84.90" y2="144.30" stroke="#000" stroke-width="0.7" />
<line x1="85.70" y1="142.50" x2="85.70" y2="144.30" stroke="#000" stroke-width="0.7" />
<line x1="87.30" y1="142.50" x2="87.30" y2="144.30" stroke="#000" stroke-width="0.7" />
<line x1="88.10" y1="142.50" x2="88.10" y2="144.30" stroke="#000" stroke-width="0.7" />
<line x1="88.90" y1="142.50" x2="88.90" y2="144.30" stroke="#000" stroke-width="0.7" />
<line x1="94.60" y1="142.50" x2="94.60" y2="144.90" stroke="#000" stroke-width="0.9" />
<line x1="107.60" y1="142.50" x2="107.60" y2="144.90" stroke="#000" stroke-width="0.9" />
<line x1="118.40" y1="142.50" x2="118.40" y2="144.90" stroke="#000" stroke-width="0.9" />
<line x1="86.28" y1="142.50" x2="86.28" y2="144.30" stroke="#000" stroke-width="0.7" />
<line x1="88.38" y1="142.50" x2="88.38" y2="144.30" stroke="#000" stroke-width="0.7" />
<line x1="89.86" y1="142.50" x2="89.86" y2="144.30" stroke="#000" stroke-width="0.7" />
<line x1="91.02" y1="142.50" x2="91.02" y2="144.30" stroke="#000" stroke-width="0.7" />
<line x1="91.96" y1="142.50" x2="91.96" y2="144.30" stroke="#000" stroke-width="0.7" />
<line x1="92.76" y1="142.50" x2="92.76" y2="144.30" stroke="#000" stroke-width="0.7" />
<line x1="93.45" y1="142.50" x2="93.45" y2="144.30" stroke="#000" stroke-width="0.7" />
<line x1="94.06" y1="142.50" x2="94.06" y2="144.30" stroke="#000" stroke-width="0.7" />
<line x1="98.18" y1="142.50" x2="98.18" y2="144.30" stroke="#000" stroke-width="0.7" />
<line x1="100.28" y1="142.50" x2="100.28" y2="144.30" stroke="#000" stroke-width="0.7" />
<line x1="101.76" y1="142.50" x2="101.76" y2="144.30" stroke="#000" stroke-width="0.7" />
<line x1="102.92" y1="142.50" x2="102.92" y2="144.30" stroke="#000" stroke-width="0.7" />
<line x1="103.86" y1="142.50" x2="103.86" y2="144.30" stroke="#000" stroke-width="0.7" />
<line x1="104.66" y1="142.50" x2="104.66" y2="144.30" stroke="#000" stroke-width="0.7" />
<line x1="105.35" y1="142.50" x2="105.35" y2="144.30" stroke="#000" stroke-width="0.7" />
<line x1="105.96" y1="142.50" x2="105.96" y2="144.30" stroke="#000" stroke-width="0.7" />
<line x1="111.18" y1="142.50" x2="111.18" y2="144.30" stroke="#000" stroke-width="0.7" />
<line x1="113.28" y1="142.50" x2="113.28" y2="144.30" stroke="#000" stroke-width="0.7" />
<line x1="114.76" y1="142.50" x2="114.76" y2="144.30" stroke="#000" stroke-width="0.7" />
<line x1="115.92" y1="142.50" x2="115.92" y2="144.30" stroke="#000" stroke-width="0.7" />
<line x1="116.86" y1="142.50" x2="116.86" y2="144.30" stroke="#000" stroke-width="0.7" />
<line x1="117.66" y1="142.50" x2="117.66" y2="144.30" stroke="#000" stroke-width="0.7" />
<line x1="118.35" y1="142.50" x2="118.35" y2="144.30" stroke="#000" stroke-width="0.7" />
<line x1="118.96" y1="142.50" x2="118.96" y2="144.30" stroke="#000" stroke-width="0.7" />
<line x1="121.98" y1="142.50" x2="121.98" y2="144.30" stroke="#000" stroke-width="0.7" />
<text x="79.30" y="153.50" font-size="5.2" text-anchor="middle" fill="#333" stroke="#333" stroke-width="0.06" >-10<tspan font-size="70%" dy="-1.6">3</tspan></text>
<text x="86.50" y="153.50" font-size="5.2" text-anchor="middle" fill="#333" stroke="#333" stroke-width="0.06" >0</text>
<text x="94.60" y="153.50" font-size="5.2" text-anchor="middle" fill="#333" stroke="#333" stroke-width="0.06" >10<tspan font-size="70%" dy="-1.6">3</tspan></text>
<text x="107.60" y="153.50" font-size="5.2" text-anchor="middle" fill="#333" stroke="#333" stroke-width="0.06" >10<tspan font-size="70%" dy="-1.6">4</tspan></text>
<text x="118.40" y="153.50" font-size="5.2" text-anchor="middle" fill="#333" stroke="#333" stroke-width="0.06" >10<tspan font-size="70%" dy="-1.6">5</tspan></text>
<rect x="76.50" y="97.00" width="45.80" height="45.50" fill="none" stroke="#000" stroke-width="1.3" />
<path d="M77.00,142.00 C77.83,142.00 80.83,143.46 82.00,142.00 C83.17,140.54 83.42,137.63 84.00,133.26 C84.58,128.89 84.98,121.24 85.50,115.78 C86.02,110.32 86.60,100.48 87.10,100.48 C87.60,100.48 88.08,110.32 88.50,115.78 C88.92,121.24 89.13,128.89 89.60,133.26 C90.07,137.63 85.82,140.54 91.30,142.00 C96.78,143.46 117.30,142.00 122.50,142.00" fill="none" stroke="#2b4a8b" stroke-width="1.15"/>
<path d="M84.60,142.00 C84.80,139.09 85.42,130.71 85.80,124.52 C86.18,118.33 86.53,104.85 86.90,104.85 C87.27,104.85 87.55,118.33 88.00,124.52 C88.45,130.71 89.33,139.09 89.60,142.00" fill="none" stroke="#c0163c" stroke-width="1.3" stroke-dasharray="2.6 1.3"/>
<text x="137.70" y="100.60" font-size="5.2" text-anchor="end" fill="#333" stroke="#333" stroke-width="0.06" >100</text>
<line x1="139.60" y1="98.80" x2="142.00" y2="98.80" stroke="#111" stroke-width="0.7" />
<text x="137.70" y="109.34" font-size="5.2" text-anchor="end" fill="#333" stroke="#333" stroke-width="0.06" >80</text>
<line x1="139.60" y1="107.54" x2="142.00" y2="107.54" stroke="#111" stroke-width="0.7" />
<text x="137.70" y="118.08" font-size="5.2" text-anchor="end" fill="#333" stroke="#333" stroke-width="0.06" >60</text>
<line x1="139.60" y1="116.28" x2="142.00" y2="116.28" stroke="#111" stroke-width="0.7" />
<text x="137.70" y="126.82" font-size="5.2" text-anchor="end" fill="#333" stroke="#333" stroke-width="0.06" >40</text>
<line x1="139.60" y1="125.02" x2="142.00" y2="125.02" stroke="#111" stroke-width="0.7" />
<text x="137.70" y="135.56" font-size="5.2" text-anchor="end" fill="#333" stroke="#333" stroke-width="0.06" >20</text>
<line x1="139.60" y1="133.76" x2="142.00" y2="133.76" stroke="#111" stroke-width="0.7" />
<text x="137.70" y="144.30" font-size="5.2" text-anchor="end" fill="#333" stroke="#333" stroke-width="0.06" >0</text>
<line x1="139.60" y1="142.50" x2="142.00" y2="142.50" stroke="#111" stroke-width="0.7" />
<line x1="140.50" y1="98.00" x2="142.00" y2="98.00" stroke="#111" stroke-width="0.55" />
<line x1="140.50" y1="100.00" x2="142.00" y2="100.00" stroke="#111" stroke-width="0.55" />
<line x1="140.50" y1="102.00" x2="142.00" y2="102.00" stroke="#111" stroke-width="0.55" />
<line x1="140.50" y1="104.00" x2="142.00" y2="104.00" stroke="#111" stroke-width="0.55" />
<line x1="140.50" y1="106.00" x2="142.00" y2="106.00" stroke="#111" stroke-width="0.55" />
<line x1="140.50" y1="108.00" x2="142.00" y2="108.00" stroke="#111" stroke-width="0.55" />
<line x1="140.50" y1="110.00" x2="142.00" y2="110.00" stroke="#111" stroke-width="0.55" />
<line x1="140.50" y1="112.00" x2="142.00" y2="112.00" stroke="#111" stroke-width="0.55" />
<line x1="140.50" y1="114.00" x2="142.00" y2="114.00" stroke="#111" stroke-width="0.55" />
<line x1="140.50" y1="116.00" x2="142.00" y2="116.00" stroke="#111" stroke-width="0.55" />
<line x1="140.50" y1="118.00" x2="142.00" y2="118.00" stroke="#111" stroke-width="0.55" />
<line x1="140.50" y1="120.00" x2="142.00" y2="120.00" stroke="#111" stroke-width="0.55" />
<line x1="140.50" y1="122.00" x2="142.00" y2="122.00" stroke="#111" stroke-width="0.55" />
<line x1="140.50" y1="124.00" x2="142.00" y2="124.00" stroke="#111" stroke-width="0.55" />
<line x1="140.50" y1="126.00" x2="142.00" y2="126.00" stroke="#111" stroke-width="0.55" />
<line x1="140.50" y1="128.00" x2="142.00" y2="128.00" stroke="#111" stroke-width="0.55" />
<line x1="140.50" y1="130.00" x2="142.00" y2="130.00" stroke="#111" stroke-width="0.55" />
<line x1="140.50" y1="132.00" x2="142.00" y2="132.00" stroke="#111" stroke-width="0.55" />
<line x1="140.50" y1="134.00" x2="142.00" y2="134.00" stroke="#111" stroke-width="0.55" />
<line x1="140.50" y1="136.00" x2="142.00" y2="136.00" stroke="#111" stroke-width="0.55" />
<line x1="140.50" y1="138.00" x2="142.00" y2="138.00" stroke="#111" stroke-width="0.55" />
<line x1="140.50" y1="140.00" x2="142.00" y2="140.00" stroke="#111" stroke-width="0.55" />
<line x1="140.50" y1="142.00" x2="142.00" y2="142.00" stroke="#111" stroke-width="0.55" />
<line x1="149.50" y1="142.50" x2="149.50" y2="144.90" stroke="#000" stroke-width="0.9" />
<line x1="147.10" y1="142.50" x2="147.10" y2="144.30" stroke="#000" stroke-width="0.7" />
<line x1="147.90" y1="142.50" x2="147.90" y2="144.30" stroke="#000" stroke-width="0.7" />
<line x1="148.70" y1="142.50" x2="148.70" y2="144.30" stroke="#000" stroke-width="0.7" />
<line x1="150.30" y1="142.50" x2="150.30" y2="144.30" stroke="#000" stroke-width="0.7" />
<line x1="151.10" y1="142.50" x2="151.10" y2="144.30" stroke="#000" stroke-width="0.7" />
<line x1="151.90" y1="142.50" x2="151.90" y2="144.30" stroke="#000" stroke-width="0.7" />
<line x1="162.30" y1="142.50" x2="162.30" y2="144.90" stroke="#000" stroke-width="0.9" />
<line x1="173.60" y1="142.50" x2="173.60" y2="144.90" stroke="#000" stroke-width="0.9" />
<line x1="183.60" y1="142.50" x2="183.60" y2="144.90" stroke="#000" stroke-width="0.9" />
<line x1="154.86" y1="142.50" x2="154.86" y2="144.30" stroke="#000" stroke-width="0.7" />
<line x1="156.73" y1="142.50" x2="156.73" y2="144.30" stroke="#000" stroke-width="0.7" />
<line x1="158.06" y1="142.50" x2="158.06" y2="144.30" stroke="#000" stroke-width="0.7" />
<line x1="159.09" y1="142.50" x2="159.09" y2="144.30" stroke="#000" stroke-width="0.7" />
<line x1="159.94" y1="142.50" x2="159.94" y2="144.30" stroke="#000" stroke-width="0.7" />
<line x1="160.65" y1="142.50" x2="160.65" y2="144.30" stroke="#000" stroke-width="0.7" />
<line x1="161.27" y1="142.50" x2="161.27" y2="144.30" stroke="#000" stroke-width="0.7" />
<line x1="161.81" y1="142.50" x2="161.81" y2="144.30" stroke="#000" stroke-width="0.7" />
<line x1="165.51" y1="142.50" x2="165.51" y2="144.30" stroke="#000" stroke-width="0.7" />
<line x1="167.38" y1="142.50" x2="167.38" y2="144.30" stroke="#000" stroke-width="0.7" />
<line x1="168.71" y1="142.50" x2="168.71" y2="144.30" stroke="#000" stroke-width="0.7" />
<line x1="169.74" y1="142.50" x2="169.74" y2="144.30" stroke="#000" stroke-width="0.7" />
<line x1="170.59" y1="142.50" x2="170.59" y2="144.30" stroke="#000" stroke-width="0.7" />
<line x1="171.30" y1="142.50" x2="171.30" y2="144.30" stroke="#000" stroke-width="0.7" />
<line x1="171.92" y1="142.50" x2="171.92" y2="144.30" stroke="#000" stroke-width="0.7" />
<line x1="172.46" y1="142.50" x2="172.46" y2="144.30" stroke="#000" stroke-width="0.7" />
<line x1="176.81" y1="142.50" x2="176.81" y2="144.30" stroke="#000" stroke-width="0.7" />
<line x1="178.68" y1="142.50" x2="178.68" y2="144.30" stroke="#000" stroke-width="0.7" />
<line x1="180.01" y1="142.50" x2="180.01" y2="144.30" stroke="#000" stroke-width="0.7" />
<line x1="181.04" y1="142.50" x2="181.04" y2="144.30" stroke="#000" stroke-width="0.7" />
<line x1="181.89" y1="142.50" x2="181.89" y2="144.30" stroke="#000" stroke-width="0.7" />
<line x1="182.60" y1="142.50" x2="182.60" y2="144.30" stroke="#000" stroke-width="0.7" />
<line x1="183.22" y1="142.50" x2="183.22" y2="144.30" stroke="#000" stroke-width="0.7" />
<line x1="183.76" y1="142.50" x2="183.76" y2="144.30" stroke="#000" stroke-width="0.7" />
<line x1="186.81" y1="142.50" x2="186.81" y2="144.30" stroke="#000" stroke-width="0.7" />
<text x="149.50" y="153.50" font-size="5.2" text-anchor="middle" fill="#333" stroke="#333" stroke-width="0.06" >0</text>
<text x="162.30" y="153.50" font-size="5.2" text-anchor="middle" fill="#333" stroke="#333" stroke-width="0.06" >10<tspan font-size="70%" dy="-1.6">3</tspan></text>
<text x="173.60" y="153.50" font-size="5.2" text-anchor="middle" fill="#333" stroke="#333" stroke-width="0.06" >10<tspan font-size="70%" dy="-1.6">4</tspan></text>
<text x="183.60" y="153.50" font-size="5.2" text-anchor="middle" fill="#333" stroke="#333" stroke-width="0.06" >10<tspan font-size="70%" dy="-1.6">5</tspan></text>
<rect x="142.00" y="97.00" width="45.80" height="45.50" fill="none" stroke="#000" stroke-width="1.3" />
<path d="M142.50,142.00 C142.92,142.00 144.25,143.09 145.00,142.00 C145.75,140.91 146.42,137.99 147.00,135.44 C147.58,132.90 148.00,128.89 148.50,126.70 C149.00,124.52 149.50,122.55 150.00,122.34 C150.50,122.12 150.95,123.57 151.50,125.39 C152.05,127.21 152.72,131.80 153.30,133.26 C153.88,134.72 154.47,134.21 155.00,134.13 C155.53,134.06 156.08,132.90 156.50,132.82 C156.92,132.75 157.20,133.62 157.50,133.70 C157.80,133.77 157.97,133.55 158.30,133.26 C158.63,132.97 159.10,132.09 159.50,131.95 C159.90,131.80 160.35,132.68 160.70,132.39 C161.05,132.09 161.32,130.78 161.60,130.20 C161.88,129.62 162.12,129.04 162.40,128.89 C162.68,128.74 163.00,129.76 163.30,129.33 C163.60,128.89 163.92,127.07 164.20,126.27 C164.48,125.47 164.67,125.18 165.00,124.52 C165.33,123.86 165.80,124.16 166.20,122.34 C166.60,120.51 167.07,115.42 167.40,113.59 C167.73,111.77 167.93,112.14 168.20,111.41 C168.47,110.68 168.73,109.52 169.00,109.22 C169.27,108.93 169.52,109.88 169.80,109.66 C170.08,109.44 170.43,107.91 170.70,107.91 C170.97,107.91 171.18,109.08 171.40,109.66 C171.62,110.24 171.73,109.30 172.00,111.41 C172.27,113.52 172.67,118.69 173.00,122.34 C173.33,125.98 173.55,129.98 174.00,133.26 C174.45,136.54 173.40,140.54 175.70,142.00 C178.00,143.46 185.78,142.00 187.80,142.00" fill="none" stroke="#2b4a8b" stroke-width="1.15"/>
<path d="M147.40,142.00 C147.67,138.36 148.57,126.71 149.00,120.15 C149.43,113.59 149.58,103.40 150.00,102.67 C150.42,101.94 151.00,111.05 151.50,115.78 C152.00,120.51 152.48,126.70 153.00,131.07 C153.52,135.44 154.33,140.18 154.60,142.00" fill="none" stroke="#c0163c" stroke-width="1.3" stroke-dasharray="2.6 1.3"/>
<text x="202.70" y="100.60" font-size="5.2" text-anchor="end" fill="#333" stroke="#333" stroke-width="0.06" >100</text>
<line x1="204.60" y1="98.80" x2="207.00" y2="98.80" stroke="#111" stroke-width="0.7" />
<text x="202.70" y="109.34" font-size="5.2" text-anchor="end" fill="#333" stroke="#333" stroke-width="0.06" >80</text>
<line x1="204.60" y1="107.54" x2="207.00" y2="107.54" stroke="#111" stroke-width="0.7" />
<text x="202.70" y="118.08" font-size="5.2" text-anchor="end" fill="#333" stroke="#333" stroke-width="0.06" >60</text>
<line x1="204.60" y1="116.28" x2="207.00" y2="116.28" stroke="#111" stroke-width="0.7" />
<text x="202.70" y="126.82" font-size="5.2" text-anchor="end" fill="#333" stroke="#333" stroke-width="0.06" >40</text>
<line x1="204.60" y1="125.02" x2="207.00" y2="125.02" stroke="#111" stroke-width="0.7" />
<text x="202.70" y="135.56" font-size="5.2" text-anchor="end" fill="#333" stroke="#333" stroke-width="0.06" >20</text>
<line x1="204.60" y1="133.76" x2="207.00" y2="133.76" stroke="#111" stroke-width="0.7" />
<text x="202.70" y="144.30" font-size="5.2" text-anchor="end" fill="#333" stroke="#333" stroke-width="0.06" >0</text>
<line x1="204.60" y1="142.50" x2="207.00" y2="142.50" stroke="#111" stroke-width="0.7" />
<line x1="205.50" y1="98.00" x2="207.00" y2="98.00" stroke="#111" stroke-width="0.55" />
<line x1="205.50" y1="100.00" x2="207.00" y2="100.00" stroke="#111" stroke-width="0.55" />
<line x1="205.50" y1="102.00" x2="207.00" y2="102.00" stroke="#111" stroke-width="0.55" />
<line x1="205.50" y1="104.00" x2="207.00" y2="104.00" stroke="#111" stroke-width="0.55" />
<line x1="205.50" y1="106.00" x2="207.00" y2="106.00" stroke="#111" stroke-width="0.55" />
<line x1="205.50" y1="108.00" x2="207.00" y2="108.00" stroke="#111" stroke-width="0.55" />
<line x1="205.50" y1="110.00" x2="207.00" y2="110.00" stroke="#111" stroke-width="0.55" />
<line x1="205.50" y1="112.00" x2="207.00" y2="112.00" stroke="#111" stroke-width="0.55" />
<line x1="205.50" y1="114.00" x2="207.00" y2="114.00" stroke="#111" stroke-width="0.55" />
<line x1="205.50" y1="116.00" x2="207.00" y2="116.00" stroke="#111" stroke-width="0.55" />
<line x1="205.50" y1="118.00" x2="207.00" y2="118.00" stroke="#111" stroke-width="0.55" />
<line x1="205.50" y1="120.00" x2="207.00" y2="120.00" stroke="#111" stroke-width="0.55" />
<line x1="205.50" y1="122.00" x2="207.00" y2="122.00" stroke="#111" stroke-width="0.55" />
<line x1="205.50" y1="124.00" x2="207.00" y2="124.00" stroke="#111" stroke-width="0.55" />
<line x1="205.50" y1="126.00" x2="207.00" y2="126.00" stroke="#111" stroke-width="0.55" />
<line x1="205.50" y1="128.00" x2="207.00" y2="128.00" stroke="#111" stroke-width="0.55" />
<line x1="205.50" y1="130.00" x2="207.00" y2="130.00" stroke="#111" stroke-width="0.55" />
<line x1="205.50" y1="132.00" x2="207.00" y2="132.00" stroke="#111" stroke-width="0.55" />
<line x1="205.50" y1="134.00" x2="207.00" y2="134.00" stroke="#111" stroke-width="0.55" />
<line x1="205.50" y1="136.00" x2="207.00" y2="136.00" stroke="#111" stroke-width="0.55" />
<line x1="205.50" y1="138.00" x2="207.00" y2="138.00" stroke="#111" stroke-width="0.55" />
<line x1="205.50" y1="140.00" x2="207.00" y2="140.00" stroke="#111" stroke-width="0.55" />
<line x1="205.50" y1="142.00" x2="207.00" y2="142.00" stroke="#111" stroke-width="0.55" />
<line x1="214.50" y1="142.50" x2="214.50" y2="144.90" stroke="#000" stroke-width="0.9" />
<line x1="212.10" y1="142.50" x2="212.10" y2="144.30" stroke="#000" stroke-width="0.7" />
<line x1="212.90" y1="142.50" x2="212.90" y2="144.30" stroke="#000" stroke-width="0.7" />
<line x1="213.70" y1="142.50" x2="213.70" y2="144.30" stroke="#000" stroke-width="0.7" />
<line x1="215.30" y1="142.50" x2="215.30" y2="144.30" stroke="#000" stroke-width="0.7" />
<line x1="216.10" y1="142.50" x2="216.10" y2="144.30" stroke="#000" stroke-width="0.7" />
<line x1="216.90" y1="142.50" x2="216.90" y2="144.30" stroke="#000" stroke-width="0.7" />
<line x1="227.30" y1="142.50" x2="227.30" y2="144.90" stroke="#000" stroke-width="0.9" />
<line x1="238.60" y1="142.50" x2="238.60" y2="144.90" stroke="#000" stroke-width="0.9" />
<line x1="248.60" y1="142.50" x2="248.60" y2="144.90" stroke="#000" stroke-width="0.9" />
<line x1="219.86" y1="142.50" x2="219.86" y2="144.30" stroke="#000" stroke-width="0.7" />
<line x1="221.73" y1="142.50" x2="221.73" y2="144.30" stroke="#000" stroke-width="0.7" />
<line x1="223.06" y1="142.50" x2="223.06" y2="144.30" stroke="#000" stroke-width="0.7" />
<line x1="224.09" y1="142.50" x2="224.09" y2="144.30" stroke="#000" stroke-width="0.7" />
<line x1="224.94" y1="142.50" x2="224.94" y2="144.30" stroke="#000" stroke-width="0.7" />
<line x1="225.65" y1="142.50" x2="225.65" y2="144.30" stroke="#000" stroke-width="0.7" />
<line x1="226.27" y1="142.50" x2="226.27" y2="144.30" stroke="#000" stroke-width="0.7" />
<line x1="226.81" y1="142.50" x2="226.81" y2="144.30" stroke="#000" stroke-width="0.7" />
<line x1="230.51" y1="142.50" x2="230.51" y2="144.30" stroke="#000" stroke-width="0.7" />
<line x1="232.38" y1="142.50" x2="232.38" y2="144.30" stroke="#000" stroke-width="0.7" />
<line x1="233.71" y1="142.50" x2="233.71" y2="144.30" stroke="#000" stroke-width="0.7" />
<line x1="234.74" y1="142.50" x2="234.74" y2="144.30" stroke="#000" stroke-width="0.7" />
<line x1="235.59" y1="142.50" x2="235.59" y2="144.30" stroke="#000" stroke-width="0.7" />
<line x1="236.30" y1="142.50" x2="236.30" y2="144.30" stroke="#000" stroke-width="0.7" />
<line x1="236.92" y1="142.50" x2="236.92" y2="144.30" stroke="#000" stroke-width="0.7" />
<line x1="237.46" y1="142.50" x2="237.46" y2="144.30" stroke="#000" stroke-width="0.7" />
<line x1="241.81" y1="142.50" x2="241.81" y2="144.30" stroke="#000" stroke-width="0.7" />
<line x1="243.68" y1="142.50" x2="243.68" y2="144.30" stroke="#000" stroke-width="0.7" />
<line x1="245.01" y1="142.50" x2="245.01" y2="144.30" stroke="#000" stroke-width="0.7" />
<line x1="246.04" y1="142.50" x2="246.04" y2="144.30" stroke="#000" stroke-width="0.7" />
<line x1="246.89" y1="142.50" x2="246.89" y2="144.30" stroke="#000" stroke-width="0.7" />
<line x1="247.60" y1="142.50" x2="247.60" y2="144.30" stroke="#000" stroke-width="0.7" />
<line x1="248.22" y1="142.50" x2="248.22" y2="144.30" stroke="#000" stroke-width="0.7" />
<line x1="248.76" y1="142.50" x2="248.76" y2="144.30" stroke="#000" stroke-width="0.7" />
<line x1="251.81" y1="142.50" x2="251.81" y2="144.30" stroke="#000" stroke-width="0.7" />
<text x="214.50" y="153.50" font-size="5.2" text-anchor="middle" fill="#333" stroke="#333" stroke-width="0.06" >0</text>
<text x="227.30" y="153.50" font-size="5.2" text-anchor="middle" fill="#333" stroke="#333" stroke-width="0.06" >10<tspan font-size="70%" dy="-1.6">3</tspan></text>
<text x="238.60" y="153.50" font-size="5.2" text-anchor="middle" fill="#333" stroke="#333" stroke-width="0.06" >10<tspan font-size="70%" dy="-1.6">4</tspan></text>
<text x="248.60" y="153.50" font-size="5.2" text-anchor="middle" fill="#333" stroke="#333" stroke-width="0.06" >10<tspan font-size="70%" dy="-1.6">5</tspan></text>
<rect x="207.00" y="97.00" width="45.80" height="45.50" fill="none" stroke="#000" stroke-width="1.3" />
<path d="M207.50,142.00 C207.92,142.00 209.18,143.46 210.00,142.00 C210.82,140.54 211.72,136.90 212.40,133.26 C213.08,129.62 213.62,123.21 214.10,120.15 C214.58,117.09 214.95,115.05 215.30,114.91 C215.65,114.76 215.92,118.69 216.20,119.28 C216.48,119.86 216.70,118.26 217.00,118.40 C217.30,118.55 217.67,119.28 218.00,120.15 C218.33,121.02 218.67,122.55 219.00,123.65 C219.33,124.74 219.62,125.69 220.00,126.70 C220.38,127.72 220.88,129.62 221.30,129.76 C221.72,129.91 222.17,128.31 222.50,127.58 C222.83,126.85 223.05,125.90 223.30,125.39 C223.55,124.88 223.78,124.45 224.00,124.52 C224.22,124.59 224.40,125.98 224.60,125.83 C224.80,125.69 224.97,124.37 225.20,123.65 C225.43,122.92 225.72,122.19 226.00,121.46 C226.28,120.73 226.60,119.49 226.90,119.28 C227.20,119.06 227.52,120.44 227.80,120.15 C228.08,119.86 228.25,118.11 228.60,117.53 C228.95,116.95 229.53,116.58 229.90,116.65 C230.27,116.73 230.52,118.11 230.80,117.97 C231.08,117.82 231.33,116.29 231.60,115.78 C231.87,115.27 232.12,114.91 232.40,114.91 C232.68,114.91 233.00,116.00 233.30,115.78 C233.60,115.56 233.88,114.32 234.20,113.59 C234.52,112.87 234.90,111.92 235.20,111.41 C235.50,110.90 235.72,111.41 236.00,110.54 C236.28,109.66 236.65,106.31 236.90,106.17 C237.15,106.02 237.33,108.93 237.50,109.66 C237.67,110.39 237.62,108.06 237.90,110.54 C238.18,113.01 238.73,119.28 239.20,124.52 C239.67,129.76 238.43,139.09 240.70,142.00 C242.97,144.91 250.78,142.00 252.80,142.00" fill="none" stroke="#2b4a8b" stroke-width="1.15"/>
<path d="M212.40,142.00 C212.67,138.36 213.50,126.71 214.00,120.15 C214.50,113.59 214.90,102.67 215.40,102.67 C215.90,102.67 216.30,113.59 217.00,120.15 C217.70,126.71 219.17,138.36 219.60,142.00" fill="none" stroke="#c0163c" stroke-width="1.3" stroke-dasharray="2.6 1.3"/>
<text x="268.50" y="15.00" font-size="10.5" text-anchor="start" fill="#231f20" stroke="#231f20" stroke-width="0.22" >B</text>
<path d="M311.3,36.12125000000002 V146.8 H485.1" fill="none" stroke="#222" stroke-width="1.2"/>
<line x1="308.50" y1="146.80" x2="311.30" y2="146.80" stroke="#222" stroke-width="1" />
<text x="305.40" y="149.60" font-size="8" text-anchor="end" fill="#222" stroke="#222" stroke-width="0.22" textLength="4.05" lengthAdjust="spacingAndGlyphs" >0</text>
<line x1="308.50" y1="128.73" x2="311.30" y2="128.73" stroke="#222" stroke-width="1" />
<text x="305.40" y="131.53" font-size="8" text-anchor="end" fill="#222" stroke="#222" stroke-width="0.22" textLength="8.10" lengthAdjust="spacingAndGlyphs" >20</text>
<line x1="308.50" y1="110.66" x2="311.30" y2="110.66" stroke="#222" stroke-width="1" />
<text x="305.40" y="113.46" font-size="8" text-anchor="end" fill="#222" stroke="#222" stroke-width="0.22" textLength="8.10" lengthAdjust="spacingAndGlyphs" >40</text>
<line x1="308.50" y1="92.59" x2="311.30" y2="92.59" stroke="#222" stroke-width="1" />
<text x="305.40" y="95.39" font-size="8" text-anchor="end" fill="#222" stroke="#222" stroke-width="0.22" textLength="8.10" lengthAdjust="spacingAndGlyphs" >60</text>
<line x1="308.50" y1="74.52" x2="311.30" y2="74.52" stroke="#222" stroke-width="1" />
<text x="305.40" y="77.32" font-size="8" text-anchor="end" fill="#222" stroke="#222" stroke-width="0.22" textLength="8.10" lengthAdjust="spacingAndGlyphs" >80</text>
<line x1="308.50" y1="56.45" x2="311.30" y2="56.45" stroke="#222" stroke-width="1" />
<text x="305.40" y="59.25" font-size="8" text-anchor="end" fill="#222" stroke="#222" stroke-width="0.22" textLength="12.15" lengthAdjust="spacingAndGlyphs" >100</text>
<line x1="308.50" y1="38.38" x2="311.30" y2="38.38" stroke="#222" stroke-width="1" />
<text x="305.40" y="41.18" font-size="8" text-anchor="end" fill="#222" stroke="#222" stroke-width="0.22" textLength="12.15" lengthAdjust="spacingAndGlyphs" >120</text>
<line x1="321.00" y1="146.80" x2="321.00" y2="149.40" stroke="#222" stroke-width="1" />
<text x="321.00" y="159.70" font-size="8" text-anchor="middle" fill="#222" stroke="#222" stroke-width="0.22" textLength="8.60" lengthAdjust="spacingAndGlyphs" >D0</text>
<line x1="340.33" y1="146.80" x2="340.33" y2="149.40" stroke="#222" stroke-width="1" />
<text x="340.33" y="159.70" font-size="8" text-anchor="middle" fill="#222" stroke="#222" stroke-width="0.22" textLength="8.60" lengthAdjust="spacingAndGlyphs" >D3</text>
<line x1="359.66" y1="146.80" x2="359.66" y2="149.40" stroke="#222" stroke-width="1" />
<text x="359.66" y="159.70" font-size="8" text-anchor="middle" fill="#222" stroke="#222" stroke-width="0.22" textLength="8.60" lengthAdjust="spacingAndGlyphs" >D5</text>
<line x1="378.99" y1="146.80" x2="378.99" y2="149.40" stroke="#222" stroke-width="1" />
<text x="378.99" y="159.70" font-size="8" text-anchor="middle" fill="#222" stroke="#222" stroke-width="0.22" textLength="8.60" lengthAdjust="spacingAndGlyphs" >D7</text>
<line x1="398.32" y1="146.80" x2="398.32" y2="149.40" stroke="#222" stroke-width="1" />
<text x="398.32" y="159.70" font-size="8" text-anchor="middle" fill="#222" stroke="#222" stroke-width="0.22" textLength="13.05" lengthAdjust="spacingAndGlyphs" >D10</text>
<line x1="417.65" y1="146.80" x2="417.65" y2="149.40" stroke="#222" stroke-width="1" />
<text x="417.65" y="159.70" font-size="8" text-anchor="middle" fill="#222" stroke="#222" stroke-width="0.22" textLength="13.05" lengthAdjust="spacingAndGlyphs" >D15</text>
<line x1="436.98" y1="146.80" x2="436.98" y2="149.40" stroke="#222" stroke-width="1" />
<text x="436.98" y="159.70" font-size="8" text-anchor="middle" fill="#222" stroke="#222" stroke-width="0.22" textLength="13.05" lengthAdjust="spacingAndGlyphs" >D19</text>
<line x1="456.31" y1="146.80" x2="456.31" y2="149.40" stroke="#222" stroke-width="1" />
<text x="456.31" y="159.70" font-size="8" text-anchor="middle" fill="#222" stroke="#222" stroke-width="0.22" textLength="13.05" lengthAdjust="spacingAndGlyphs" >D24</text>
<line x1="475.64" y1="146.80" x2="475.64" y2="149.40" stroke="#222" stroke-width="1" />
<text x="475.64" y="159.70" font-size="8" text-anchor="middle" fill="#222" stroke="#222" stroke-width="0.22" textLength="13.05" lengthAdjust="spacingAndGlyphs" >D28</text>
<text x="398.50" y="172.50" font-size="9.3" text-anchor="middle" fill="#231f20" stroke="#231f20" stroke-width="0.22" textLength="44.40" lengthAdjust="spacingAndGlyphs" >Time (days)</text>
<text x="286.80" y="92.00" font-size="9.4" text-anchor="middle" fill="#231f20" stroke="#231f20" stroke-width="0.22" textLength="130.60" lengthAdjust="spacingAndGlyphs" transform="rotate(-90 286.80 92.00)" >Percentage of GPA negative cells</text>
<line x1="320.40" y1="43.50" x2="331.20" y2="43.50" stroke="#1f3f86" stroke-width="1.3" />
<circle cx="325.6" cy="43.5" r="1.7" fill="#1f3f86"/>
<text x="334.20" y="46.30" font-size="7.8" text-anchor="start" fill="#231f20" stroke="#231f20" stroke-width="0.21" textLength="51.90" lengthAdjust="spacingAndGlyphs" >Luciferase-CFU-E</text>
<line x1="402.40" y1="43.50" x2="413.50" y2="43.50" stroke="#b5123a" stroke-width="1.3" />
<rect x="406.30" y="41.80" width="3.40" height="3.40" fill="#b5123a" />
<text x="416.50" y="46.30" font-size="7.8" text-anchor="start" fill="#231f20" stroke="#231f20" stroke-width="0.21" textLength="46.20" lengthAdjust="spacingAndGlyphs" >TET2 KD-CFU-E</text>
<polyline points="321.00,56.45 340.33,109.21 359.66,113.46 378.99,123.04 398.32,118.52 417.65,121.23 436.98,117.62 456.31,117.89 475.64,115.54" fill="none" stroke="#b5123a" stroke-width="1.5"/>
<polyline points="321.00,56.45 340.33,122.22 359.66,132.16 378.99,137.77 398.32,142.37 417.65,144.54" fill="none" stroke="#1f3f86" stroke-width="1.3"/>
<rect x="319.10" y="54.55" width="3.80" height="3.80" fill="#b5123a" />
<line x1="340.33" y1="107.86" x2="340.33" y2="110.57" stroke="#b5123a" stroke-width="0.9" />
<line x1="338.53" y1="107.86" x2="342.13" y2="107.86" stroke="#b5123a" stroke-width="0.9" />
<line x1="338.53" y1="110.57" x2="342.13" y2="110.57" stroke="#b5123a" stroke-width="0.9" />
<rect x="338.43" y="107.31" width="3.80" height="3.80" fill="#b5123a" />
<line x1="359.66" y1="112.11" x2="359.66" y2="114.82" stroke="#b5123a" stroke-width="0.9" />
<line x1="357.86" y1="112.11" x2="361.46" y2="112.11" stroke="#b5123a" stroke-width="0.9" />
<line x1="357.86" y1="114.82" x2="361.46" y2="114.82" stroke="#b5123a" stroke-width="0.9" />
<rect x="357.76" y="111.56" width="3.80" height="3.80" fill="#b5123a" />
<line x1="378.99" y1="119.88" x2="378.99" y2="126.20" stroke="#b5123a" stroke-width="0.9" />
<line x1="377.19" y1="119.88" x2="380.79" y2="119.88" stroke="#b5123a" stroke-width="0.9" />
<line x1="377.19" y1="126.20" x2="380.79" y2="126.20" stroke="#b5123a" stroke-width="0.9" />
<rect x="377.09" y="121.14" width="3.80" height="3.80" fill="#b5123a" />
<line x1="398.32" y1="113.55" x2="398.32" y2="123.49" stroke="#b5123a" stroke-width="0.9" />
<line x1="396.52" y1="113.55" x2="400.12" y2="113.55" stroke="#b5123a" stroke-width="0.9" />
<line x1="396.52" y1="123.49" x2="400.12" y2="123.49" stroke="#b5123a" stroke-width="0.9" />
<rect x="396.42" y="116.62" width="3.80" height="3.80" fill="#b5123a" />
<line x1="417.65" y1="117.62" x2="417.65" y2="124.84" stroke="#b5123a" stroke-width="0.9" />
<line x1="415.85" y1="117.62" x2="419.45" y2="117.62" stroke="#b5123a" stroke-width="0.9" />
<line x1="415.85" y1="124.84" x2="419.45" y2="124.84" stroke="#b5123a" stroke-width="0.9" />
<rect x="415.75" y="119.33" width="3.80" height="3.80" fill="#b5123a" />
<line x1="436.98" y1="114.00" x2="436.98" y2="121.23" stroke="#b5123a" stroke-width="0.9" />
<line x1="435.18" y1="114.00" x2="438.78" y2="114.00" stroke="#b5123a" stroke-width="0.9" />
<line x1="435.18" y1="121.23" x2="438.78" y2="121.23" stroke="#b5123a" stroke-width="0.9" />
<rect x="435.08" y="115.72" width="3.80" height="3.80" fill="#b5123a" />
<line x1="456.31" y1="116.98" x2="456.31" y2="118.79" stroke="#b5123a" stroke-width="0.9" />
<line x1="454.51" y1="116.98" x2="458.11" y2="116.98" stroke="#b5123a" stroke-width="0.9" />
<line x1="454.51" y1="118.79" x2="458.11" y2="118.79" stroke="#b5123a" stroke-width="0.9" />
<rect x="454.41" y="115.99" width="3.80" height="3.80" fill="#b5123a" />
<line x1="475.64" y1="113.73" x2="475.64" y2="117.35" stroke="#b5123a" stroke-width="0.9" />
<line x1="473.84" y1="113.73" x2="477.44" y2="113.73" stroke="#b5123a" stroke-width="0.9" />
<line x1="473.84" y1="117.35" x2="477.44" y2="117.35" stroke="#b5123a" stroke-width="0.9" />
<rect x="473.74" y="113.64" width="3.80" height="3.80" fill="#b5123a" />
<circle cx="321.00" cy="56.45" r="1.8" fill="#1f3f86"/>
<line x1="340.33" y1="117.71" x2="340.33" y2="126.74" stroke="#1f3f86" stroke-width="0.9" />
<line x1="338.53" y1="117.71" x2="342.13" y2="117.71" stroke="#1f3f86" stroke-width="0.9" />
<line x1="338.53" y1="126.74" x2="342.13" y2="126.74" stroke="#1f3f86" stroke-width="0.9" />
<circle cx="340.33" cy="122.22" r="1.8" fill="#1f3f86"/>
<line x1="359.66" y1="128.10" x2="359.66" y2="136.23" stroke="#1f3f86" stroke-width="0.9" />
<line x1="357.86" y1="128.10" x2="361.46" y2="128.10" stroke="#1f3f86" stroke-width="0.9" />
<line x1="357.86" y1="136.23" x2="361.46" y2="136.23" stroke="#1f3f86" stroke-width="0.9" />
<circle cx="359.66" cy="132.16" r="1.8" fill="#1f3f86"/>
<circle cx="378.99" cy="137.77" r="1.8" fill="#1f3f86"/>
<circle cx="398.32" cy="142.37" r="1.8" fill="#1f3f86"/>
<circle cx="417.65" cy="144.54" r="1.8" fill="#1f3f86"/>
<text x="340.33" y="106.80" font-size="8" text-anchor="middle" fill="#222" stroke="#222" stroke-width="0.22" >*</text>
<text x="359.66" y="111.10" font-size="8" text-anchor="middle" fill="#222" stroke="#222" stroke-width="0.22" >*</text>
<text x="378.99" y="119.90" font-size="8" text-anchor="middle" fill="#222" stroke="#222" stroke-width="0.22" >*</text>
<text x="398.32" y="112.80" font-size="8" text-anchor="middle" fill="#222" stroke="#222" stroke-width="0.22" >*</text>
<text x="417.65" y="117.40" font-size="8" text-anchor="middle" fill="#222" stroke="#222" stroke-width="0.22" >**</text>
<text x="7.30" y="198.60" font-size="10.5" text-anchor="start" fill="#231f20" stroke="#231f20" stroke-width="0.22" >C</text>
<text x="100.40" y="211.80" font-size="8.3" text-anchor="middle" fill="#231f20" stroke="#231f20" stroke-width="0.08" >D5</text>
<text x="166.90" y="211.60" font-size="8.3" text-anchor="middle" fill="#231f20" stroke="#231f20" stroke-width="0.08" >D15</text>
<text x="27.40" y="237.00" font-size="8.2" text-anchor="middle" fill="#231f20" stroke="#231f20" stroke-width="0.22" textLength="33.80" lengthAdjust="spacingAndGlyphs" >Luciferase</text>
<text x="27.80" y="246.70" font-size="8.2" text-anchor="middle" fill="#231f20" stroke="#231f20" stroke-width="0.22" textLength="23.00" lengthAdjust="spacingAndGlyphs" >-CFU-E</text>
<text x="27.55" y="306.50" font-size="8.2" text-anchor="middle" fill="#231f20" stroke="#231f20" stroke-width="0.22" textLength="27.30" lengthAdjust="spacingAndGlyphs" >TET2 KD</text>
<text x="27.40" y="316.40" font-size="8.2" text-anchor="middle" fill="#231f20" stroke="#231f20" stroke-width="0.22" textLength="22.80" lengthAdjust="spacingAndGlyphs" >-CFU-E</text>
<text x="50.6" y="275" font-size="6.6" text-anchor="middle" fill="#231f20" transform="rotate(-90 50.6 275)" textLength="38.4" lengthAdjust="spacingAndGlyphs">α4-integrin</text>
<path d="M58.15,216.3 V343.7 H190.2" fill="none" stroke="#444" stroke-width="1.8"/>
<text x="124.30" y="356.00" font-size="8.9" text-anchor="middle" fill="#231f20" stroke="#231f20" stroke-width="0.22" textLength="24.60" lengthAdjust="spacingAndGlyphs" >Band3</text>
<text x="73.50" y="223.00" font-size="4.6" text-anchor="end" fill="#333" stroke="#333" stroke-width="0.06" >10<tspan font-size="70%" dy="-1.6">5</tspan></text>
<text x="73.50" y="233.00" font-size="4.6" text-anchor="end" fill="#333" stroke="#333" stroke-width="0.06" >10<tspan font-size="70%" dy="-1.6">4</tspan></text>
<text x="73.50" y="245.20" font-size="4.6" text-anchor="end" fill="#333" stroke="#333" stroke-width="0.06" >10<tspan font-size="70%" dy="-1.6">3</tspan></text>
<text x="73.50" y="252.60" font-size="4.6" text-anchor="end" fill="#333" stroke="#333" stroke-width="0.06" >0</text>
<text x="73.50" y="261.60" font-size="4.6" text-anchor="end" fill="#333" stroke="#333" stroke-width="0.06" >-10<tspan font-size="70%" dy="-1.6">3</tspan></text>
<line x1="74.80" y1="221.40" x2="77.00" y2="221.40" stroke="#000" stroke-width="0.9" />
<line x1="74.80" y1="231.40" x2="77.00" y2="231.40" stroke="#000" stroke-width="0.9" />
<line x1="74.80" y1="243.60" x2="77.00" y2="243.60" stroke="#000" stroke-width="0.9" />
<line x1="74.80" y1="251.00" x2="77.00" y2="251.00" stroke="#000" stroke-width="0.9" />
<line x1="75.40" y1="248.60" x2="77.00" y2="248.60" stroke="#000" stroke-width="0.7" />
<line x1="75.40" y1="249.40" x2="77.00" y2="249.40" stroke="#000" stroke-width="0.7" />
<line x1="75.40" y1="250.20" x2="77.00" y2="250.20" stroke="#000" stroke-width="0.7" />
<line x1="75.40" y1="251.80" x2="77.00" y2="251.80" stroke="#000" stroke-width="0.7" />
<line x1="75.40" y1="252.60" x2="77.00" y2="252.60" stroke="#000" stroke-width="0.7" />
<line x1="75.40" y1="253.40" x2="77.00" y2="253.40" stroke="#000" stroke-width="0.7" />
<line x1="74.80" y1="260.00" x2="77.00" y2="260.00" stroke="#000" stroke-width="0.9" />
<line x1="75.40" y1="216.98" x2="77.00" y2="216.98" stroke="#000" stroke-width="0.7" />
<line x1="75.40" y1="218.06" x2="77.00" y2="218.06" stroke="#000" stroke-width="0.7" />
<line x1="75.40" y1="218.94" x2="77.00" y2="218.94" stroke="#000" stroke-width="0.7" />
<line x1="75.40" y1="219.68" x2="77.00" y2="219.68" stroke="#000" stroke-width="0.7" />
<line x1="75.40" y1="220.32" x2="77.00" y2="220.32" stroke="#000" stroke-width="0.7" />
<line x1="75.40" y1="220.89" x2="77.00" y2="220.89" stroke="#000" stroke-width="0.7" />
<line x1="75.40" y1="224.74" x2="77.00" y2="224.74" stroke="#000" stroke-width="0.7" />
<line x1="75.40" y1="226.70" x2="77.00" y2="226.70" stroke="#000" stroke-width="0.7" />
<line x1="75.40" y1="228.08" x2="77.00" y2="228.08" stroke="#000" stroke-width="0.7" />
<line x1="75.40" y1="229.16" x2="77.00" y2="229.16" stroke="#000" stroke-width="0.7" />
<line x1="75.40" y1="230.04" x2="77.00" y2="230.04" stroke="#000" stroke-width="0.7" />
<line x1="75.40" y1="230.78" x2="77.00" y2="230.78" stroke="#000" stroke-width="0.7" />
<line x1="75.40" y1="231.42" x2="77.00" y2="231.42" stroke="#000" stroke-width="0.7" />
<line x1="75.40" y1="231.99" x2="77.00" y2="231.99" stroke="#000" stroke-width="0.7" />
<line x1="75.40" y1="234.74" x2="77.00" y2="234.74" stroke="#000" stroke-width="0.7" />
<line x1="75.40" y1="236.70" x2="77.00" y2="236.70" stroke="#000" stroke-width="0.7" />
<line x1="75.40" y1="238.08" x2="77.00" y2="238.08" stroke="#000" stroke-width="0.7" />
<line x1="75.40" y1="239.16" x2="77.00" y2="239.16" stroke="#000" stroke-width="0.7" />
<line x1="75.40" y1="240.04" x2="77.00" y2="240.04" stroke="#000" stroke-width="0.7" />
<line x1="75.40" y1="240.78" x2="77.00" y2="240.78" stroke="#000" stroke-width="0.7" />
<line x1="75.40" y1="241.42" x2="77.00" y2="241.42" stroke="#000" stroke-width="0.7" />
<line x1="75.40" y1="241.99" x2="77.00" y2="241.99" stroke="#000" stroke-width="0.7" />
<line x1="75.40" y1="246.94" x2="77.00" y2="246.94" stroke="#000" stroke-width="0.7" />
<line x1="75.40" y1="248.90" x2="77.00" y2="248.90" stroke="#000" stroke-width="0.7" />
<line x1="75.40" y1="250.28" x2="77.00" y2="250.28" stroke="#000" stroke-width="0.7" />
<line x1="75.40" y1="251.36" x2="77.00" y2="251.36" stroke="#000" stroke-width="0.7" />
<line x1="75.40" y1="252.24" x2="77.00" y2="252.24" stroke="#000" stroke-width="0.7" />
<line x1="75.40" y1="252.98" x2="77.00" y2="252.98" stroke="#000" stroke-width="0.7" />
<line x1="75.40" y1="253.62" x2="77.00" y2="253.62" stroke="#000" stroke-width="0.7" />
<line x1="75.40" y1="254.19" x2="77.00" y2="254.19" stroke="#000" stroke-width="0.7" />
<line x1="79.00" y1="262.70" x2="79.00" y2="264.90" stroke="#000" stroke-width="0.9" />
<line x1="87.20" y1="262.70" x2="87.20" y2="264.90" stroke="#000" stroke-width="0.9" />
<line x1="84.80" y1="262.70" x2="84.80" y2="264.30" stroke="#000" stroke-width="0.7" />
<line x1="85.60" y1="262.70" x2="85.60" y2="264.30" stroke="#000" stroke-width="0.7" />
<line x1="86.40" y1="262.70" x2="86.40" y2="264.30" stroke="#000" stroke-width="0.7" />
<line x1="88.00" y1="262.70" x2="88.00" y2="264.30" stroke="#000" stroke-width="0.7" />
<line x1="88.80" y1="262.70" x2="88.80" y2="264.30" stroke="#000" stroke-width="0.7" />
<line x1="89.60" y1="262.70" x2="89.60" y2="264.30" stroke="#000" stroke-width="0.7" />
<line x1="95.20" y1="262.70" x2="95.20" y2="264.90" stroke="#000" stroke-width="0.9" />
<line x1="108.50" y1="262.70" x2="108.50" y2="264.90" stroke="#000" stroke-width="0.9" />
<line x1="118.00" y1="262.70" x2="118.00" y2="264.90" stroke="#000" stroke-width="0.9" />
<line x1="87.23" y1="262.70" x2="87.23" y2="264.30" stroke="#000" stroke-width="0.7" />
<line x1="89.24" y1="262.70" x2="89.24" y2="264.30" stroke="#000" stroke-width="0.7" />
<line x1="90.66" y1="262.70" x2="90.66" y2="264.30" stroke="#000" stroke-width="0.7" />
<line x1="91.77" y1="262.70" x2="91.77" y2="264.30" stroke="#000" stroke-width="0.7" />
<line x1="92.67" y1="262.70" x2="92.67" y2="264.30" stroke="#000" stroke-width="0.7" />
<line x1="93.43" y1="262.70" x2="93.43" y2="264.30" stroke="#000" stroke-width="0.7" />
<line x1="94.10" y1="262.70" x2="94.10" y2="264.30" stroke="#000" stroke-width="0.7" />
<line x1="94.68" y1="262.70" x2="94.68" y2="264.30" stroke="#000" stroke-width="0.7" />
<line x1="98.63" y1="262.70" x2="98.63" y2="264.30" stroke="#000" stroke-width="0.7" />
<line x1="100.64" y1="262.70" x2="100.64" y2="264.30" stroke="#000" stroke-width="0.7" />
<line x1="102.06" y1="262.70" x2="102.06" y2="264.30" stroke="#000" stroke-width="0.7" />
<line x1="103.17" y1="262.70" x2="103.17" y2="264.30" stroke="#000" stroke-width="0.7" />
<line x1="104.07" y1="262.70" x2="104.07" y2="264.30" stroke="#000" stroke-width="0.7" />
<line x1="104.83" y1="262.70" x2="104.83" y2="264.30" stroke="#000" stroke-width="0.7" />
<line x1="105.50" y1="262.70" x2="105.50" y2="264.30" stroke="#000" stroke-width="0.7" />
<line x1="106.08" y1="262.70" x2="106.08" y2="264.30" stroke="#000" stroke-width="0.7" />
<line x1="111.93" y1="262.70" x2="111.93" y2="264.30" stroke="#000" stroke-width="0.7" />
<line x1="113.94" y1="262.70" x2="113.94" y2="264.30" stroke="#000" stroke-width="0.7" />
<line x1="115.36" y1="262.70" x2="115.36" y2="264.30" stroke="#000" stroke-width="0.7" />
<line x1="116.47" y1="262.70" x2="116.47" y2="264.30" stroke="#000" stroke-width="0.7" />
<line x1="117.37" y1="262.70" x2="117.37" y2="264.30" stroke="#000" stroke-width="0.7" />
<line x1="118.13" y1="262.70" x2="118.13" y2="264.30" stroke="#000" stroke-width="0.7" />
<line x1="118.80" y1="262.70" x2="118.80" y2="264.30" stroke="#000" stroke-width="0.7" />
<line x1="119.38" y1="262.70" x2="119.38" y2="264.30" stroke="#000" stroke-width="0.7" />
<line x1="121.43" y1="262.70" x2="121.43" y2="264.30" stroke="#000" stroke-width="0.7" />
<text x="79.00" y="272.00" font-size="4.6" text-anchor="middle" fill="#333" stroke="#333" stroke-width="0.06" >-10<tspan font-size="70%" dy="-1.6">3</tspan></text>
<text x="87.20" y="272.00" font-size="4.6" text-anchor="middle" fill="#333" stroke="#333" stroke-width="0.06" >0</text>
<text x="95.20" y="272.00" font-size="4.6" text-anchor="middle" fill="#333" stroke="#333" stroke-width="0.06" >10<tspan font-size="70%" dy="-1.6">3</tspan></text>
<text x="108.50" y="272.00" font-size="4.6" text-anchor="middle" fill="#333" stroke="#333" stroke-width="0.06" >10<tspan font-size="70%" dy="-1.6">4</tspan></text>
<text x="118.00" y="272.00" font-size="4.6" text-anchor="middle" fill="#333" stroke="#333" stroke-width="0.06" >10<tspan font-size="70%" dy="-1.6">5</tspan></text>
<text x="138.50" y="222.50" font-size="4.6" text-anchor="end" fill="#333" stroke="#333" stroke-width="0.06" >10<tspan font-size="70%" dy="-1.6">5</tspan></text>
<text x="138.50" y="232.50" font-size="4.6" text-anchor="end" fill="#333" stroke="#333" stroke-width="0.06" >10<tspan font-size="70%" dy="-1.6">4</tspan></text>
<text x="138.50" y="244.70" font-size="4.6" text-anchor="end" fill="#333" stroke="#333" stroke-width="0.06" >10<tspan font-size="70%" dy="-1.6">3</tspan></text>
<text x="138.50" y="252.10" font-size="4.6" text-anchor="end" fill="#333" stroke="#333" stroke-width="0.06" >0</text>
<text x="138.50" y="261.10" font-size="4.6" text-anchor="end" fill="#333" stroke="#333" stroke-width="0.06" >-10<tspan font-size="70%" dy="-1.6">3</tspan></text>
<line x1="139.80" y1="220.90" x2="142.00" y2="220.90" stroke="#000" stroke-width="0.9" />
<line x1="139.80" y1="230.90" x2="142.00" y2="230.90" stroke="#000" stroke-width="0.9" />
<line x1="139.80" y1="243.10" x2="142.00" y2="243.10" stroke="#000" stroke-width="0.9" />
<line x1="139.80" y1="250.50" x2="142.00" y2="250.50" stroke="#000" stroke-width="0.9" />
<line x1="140.40" y1="248.10" x2="142.00" y2="248.10" stroke="#000" stroke-width="0.7" />
<line x1="140.40" y1="248.90" x2="142.00" y2="248.90" stroke="#000" stroke-width="0.7" />
<line x1="140.40" y1="249.70" x2="142.00" y2="249.70" stroke="#000" stroke-width="0.7" />
<line x1="140.40" y1="251.30" x2="142.00" y2="251.30" stroke="#000" stroke-width="0.7" />
<line x1="140.40" y1="252.10" x2="142.00" y2="252.10" stroke="#000" stroke-width="0.7" />
<line x1="140.40" y1="252.90" x2="142.00" y2="252.90" stroke="#000" stroke-width="0.7" />
<line x1="139.80" y1="259.50" x2="142.00" y2="259.50" stroke="#000" stroke-width="0.9" />
<line x1="140.40" y1="216.48" x2="142.00" y2="216.48" stroke="#000" stroke-width="0.7" />
<line x1="140.40" y1="217.56" x2="142.00" y2="217.56" stroke="#000" stroke-width="0.7" />
<line x1="140.40" y1="218.44" x2="142.00" y2="218.44" stroke="#000" stroke-width="0.7" />
<line x1="140.40" y1="219.18" x2="142.00" y2="219.18" stroke="#000" stroke-width="0.7" />
<line x1="140.40" y1="219.82" x2="142.00" y2="219.82" stroke="#000" stroke-width="0.7" />
<line x1="140.40" y1="220.39" x2="142.00" y2="220.39" stroke="#000" stroke-width="0.7" />
<line x1="140.40" y1="224.24" x2="142.00" y2="224.24" stroke="#000" stroke-width="0.7" />
<line x1="140.40" y1="226.20" x2="142.00" y2="226.20" stroke="#000" stroke-width="0.7" />
<line x1="140.40" y1="227.58" x2="142.00" y2="227.58" stroke="#000" stroke-width="0.7" />
<line x1="140.40" y1="228.66" x2="142.00" y2="228.66" stroke="#000" stroke-width="0.7" />
<line x1="140.40" y1="229.54" x2="142.00" y2="229.54" stroke="#000" stroke-width="0.7" />
<line x1="140.40" y1="230.28" x2="142.00" y2="230.28" stroke="#000" stroke-width="0.7" />
<line x1="140.40" y1="230.92" x2="142.00" y2="230.92" stroke="#000" stroke-width="0.7" />
<line x1="140.40" y1="231.49" x2="142.00" y2="231.49" stroke="#000" stroke-width="0.7" />
<line x1="140.40" y1="234.24" x2="142.00" y2="234.24" stroke="#000" stroke-width="0.7" />
<line x1="140.40" y1="236.20" x2="142.00" y2="236.20" stroke="#000" stroke-width="0.7" />
<line x1="140.40" y1="237.58" x2="142.00" y2="237.58" stroke="#000" stroke-width="0.7" />
<line x1="140.40" y1="238.66" x2="142.00" y2="238.66" stroke="#000" stroke-width="0.7" />
<line x1="140.40" y1="239.54" x2="142.00" y2="239.54" stroke="#000" stroke-width="0.7" />
<line x1="140.40" y1="240.28" x2="142.00" y2="240.28" stroke="#000" stroke-width="0.7" />
<line x1="140.40" y1="240.92" x2="142.00" y2="240.92" stroke="#000" stroke-width="0.7" />
<line x1="140.40" y1="241.49" x2="142.00" y2="241.49" stroke="#000" stroke-width="0.7" />
<line x1="140.40" y1="246.44" x2="142.00" y2="246.44" stroke="#000" stroke-width="0.7" />
<line x1="140.40" y1="248.40" x2="142.00" y2="248.40" stroke="#000" stroke-width="0.7" />
<line x1="140.40" y1="249.78" x2="142.00" y2="249.78" stroke="#000" stroke-width="0.7" />
<line x1="140.40" y1="250.86" x2="142.00" y2="250.86" stroke="#000" stroke-width="0.7" />
<line x1="140.40" y1="251.74" x2="142.00" y2="251.74" stroke="#000" stroke-width="0.7" />
<line x1="140.40" y1="252.48" x2="142.00" y2="252.48" stroke="#000" stroke-width="0.7" />
<line x1="140.40" y1="253.12" x2="142.00" y2="253.12" stroke="#000" stroke-width="0.7" />
<line x1="140.40" y1="253.69" x2="142.00" y2="253.69" stroke="#000" stroke-width="0.7" />
<line x1="144.00" y1="262.70" x2="144.00" y2="264.90" stroke="#000" stroke-width="0.9" />
<line x1="152.20" y1="262.70" x2="152.20" y2="264.90" stroke="#000" stroke-width="0.9" />
<line x1="149.80" y1="262.70" x2="149.80" y2="264.30" stroke="#000" stroke-width="0.7" />
<line x1="150.60" y1="262.70" x2="150.60" y2="264.30" stroke="#000" stroke-width="0.7" />
<line x1="151.40" y1="262.70" x2="151.40" y2="264.30" stroke="#000" stroke-width="0.7" />
<line x1="153.00" y1="262.70" x2="153.00" y2="264.30" stroke="#000" stroke-width="0.7" />
<line x1="153.80" y1="262.70" x2="153.80" y2="264.30" stroke="#000" stroke-width="0.7" />
<line x1="154.60" y1="262.70" x2="154.60" y2="264.30" stroke="#000" stroke-width="0.7" />
<line x1="160.20" y1="262.70" x2="160.20" y2="264.90" stroke="#000" stroke-width="0.9" />
<line x1="173.50" y1="262.70" x2="173.50" y2="264.90" stroke="#000" stroke-width="0.9" />
<line x1="183.00" y1="262.70" x2="183.00" y2="264.90" stroke="#000" stroke-width="0.9" />
<line x1="152.23" y1="262.70" x2="152.23" y2="264.30" stroke="#000" stroke-width="0.7" />
<line x1="154.24" y1="262.70" x2="154.24" y2="264.30" stroke="#000" stroke-width="0.7" />
<line x1="155.66" y1="262.70" x2="155.66" y2="264.30" stroke="#000" stroke-width="0.7" />
<line x1="156.77" y1="262.70" x2="156.77" y2="264.30" stroke="#000" stroke-width="0.7" />
<line x1="157.67" y1="262.70" x2="157.67" y2="264.30" stroke="#000" stroke-width="0.7" />
<line x1="158.43" y1="262.70" x2="158.43" y2="264.30" stroke="#000" stroke-width="0.7" />
<line x1="159.10" y1="262.70" x2="159.10" y2="264.30" stroke="#000" stroke-width="0.7" />
<line x1="159.68" y1="262.70" x2="159.68" y2="264.30" stroke="#000" stroke-width="0.7" />
<line x1="163.63" y1="262.70" x2="163.63" y2="264.30" stroke="#000" stroke-width="0.7" />
<line x1="165.64" y1="262.70" x2="165.64" y2="264.30" stroke="#000" stroke-width="0.7" />
<line x1="167.06" y1="262.70" x2="167.06" y2="264.30" stroke="#000" stroke-width="0.7" />
<line x1="168.17" y1="262.70" x2="168.17" y2="264.30" stroke="#000" stroke-width="0.7" />
<line x1="169.07" y1="262.70" x2="169.07" y2="264.30" stroke="#000" stroke-width="0.7" />
<line x1="169.83" y1="262.70" x2="169.83" y2="264.30" stroke="#000" stroke-width="0.7" />
<line x1="170.50" y1="262.70" x2="170.50" y2="264.30" stroke="#000" stroke-width="0.7" />
<line x1="171.08" y1="262.70" x2="171.08" y2="264.30" stroke="#000" stroke-width="0.7" />
<line x1="176.93" y1="262.70" x2="176.93" y2="264.30" stroke="#000" stroke-width="0.7" />
<line x1="178.94" y1="262.70" x2="178.94" y2="264.30" stroke="#000" stroke-width="0.7" />
<line x1="180.36" y1="262.70" x2="180.36" y2="264.30" stroke="#000" stroke-width="0.7" />
<line x1="181.47" y1="262.70" x2="181.47" y2="264.30" stroke="#000" stroke-width="0.7" />
<line x1="182.37" y1="262.70" x2="182.37" y2="264.30" stroke="#000" stroke-width="0.7" />
<line x1="183.13" y1="262.70" x2="183.13" y2="264.30" stroke="#000" stroke-width="0.7" />
<line x1="183.80" y1="262.70" x2="183.80" y2="264.30" stroke="#000" stroke-width="0.7" />
<line x1="184.38" y1="262.70" x2="184.38" y2="264.30" stroke="#000" stroke-width="0.7" />
<line x1="186.43" y1="262.70" x2="186.43" y2="264.30" stroke="#000" stroke-width="0.7" />
<line x1="188.44" y1="262.70" x2="188.44" y2="264.30" stroke="#000" stroke-width="0.7" />
<text x="144.00" y="272.00" font-size="4.6" text-anchor="middle" fill="#333" stroke="#333" stroke-width="0.06" >-10<tspan font-size="70%" dy="-1.6">3</tspan></text>
<text x="152.20" y="272.00" font-size="4.6" text-anchor="middle" fill="#333" stroke="#333" stroke-width="0.06" >0</text>
<text x="160.20" y="272.00" font-size="4.6" text-anchor="middle" fill="#333" stroke="#333" stroke-width="0.06" >10<tspan font-size="70%" dy="-1.6">3</tspan></text>
<text x="173.50" y="272.00" font-size="4.6" text-anchor="middle" fill="#333" stroke="#333" stroke-width="0.06" >10<tspan font-size="70%" dy="-1.6">4</tspan></text>
<text x="183.00" y="272.00" font-size="4.6" text-anchor="middle" fill="#333" stroke="#333" stroke-width="0.06" >10<tspan font-size="70%" dy="-1.6">5</tspan></text>
<text x="72.00" y="286.50" font-size="4.6" text-anchor="end" fill="#333" stroke="#333" stroke-width="0.06" >10<tspan font-size="70%" dy="-1.6">5</tspan></text>
<text x="72.00" y="296.50" font-size="4.6" text-anchor="end" fill="#333" stroke="#333" stroke-width="0.06" >10<tspan font-size="70%" dy="-1.6">4</tspan></text>
<text x="72.00" y="308.70" font-size="4.6" text-anchor="end" fill="#333" stroke="#333" stroke-width="0.06" >10<tspan font-size="70%" dy="-1.6">3</tspan></text>
<text x="72.00" y="316.10" font-size="4.6" text-anchor="end" fill="#333" stroke="#333" stroke-width="0.06" >0</text>
<text x="72.00" y="325.10" font-size="4.6" text-anchor="end" fill="#333" stroke="#333" stroke-width="0.06" >-10<tspan font-size="70%" dy="-1.6">3</tspan></text>
<line x1="73.30" y1="284.90" x2="75.50" y2="284.90" stroke="#000" stroke-width="0.9" />
<line x1="73.30" y1="294.90" x2="75.50" y2="294.90" stroke="#000" stroke-width="0.9" />
<line x1="73.30" y1="307.10" x2="75.50" y2="307.10" stroke="#000" stroke-width="0.9" />
<line x1="73.30" y1="314.50" x2="75.50" y2="314.50" stroke="#000" stroke-width="0.9" />
<line x1="73.90" y1="312.10" x2="75.50" y2="312.10" stroke="#000" stroke-width="0.7" />
<line x1="73.90" y1="312.90" x2="75.50" y2="312.90" stroke="#000" stroke-width="0.7" />
<line x1="73.90" y1="313.70" x2="75.50" y2="313.70" stroke="#000" stroke-width="0.7" />
<line x1="73.90" y1="315.30" x2="75.50" y2="315.30" stroke="#000" stroke-width="0.7" />
<line x1="73.90" y1="316.10" x2="75.50" y2="316.10" stroke="#000" stroke-width="0.7" />
<line x1="73.90" y1="316.90" x2="75.50" y2="316.90" stroke="#000" stroke-width="0.7" />
<line x1="73.30" y1="323.50" x2="75.50" y2="323.50" stroke="#000" stroke-width="0.9" />
<line x1="73.90" y1="280.48" x2="75.50" y2="280.48" stroke="#000" stroke-width="0.7" />
<line x1="73.90" y1="281.56" x2="75.50" y2="281.56" stroke="#000" stroke-width="0.7" />
<line x1="73.90" y1="282.44" x2="75.50" y2="282.44" stroke="#000" stroke-width="0.7" />
<line x1="73.90" y1="283.18" x2="75.50" y2="283.18" stroke="#000" stroke-width="0.7" />
<line x1="73.90" y1="283.82" x2="75.50" y2="283.82" stroke="#000" stroke-width="0.7" />
<line x1="73.90" y1="284.39" x2="75.50" y2="284.39" stroke="#000" stroke-width="0.7" />
<line x1="73.90" y1="288.24" x2="75.50" y2="288.24" stroke="#000" stroke-width="0.7" />
<line x1="73.90" y1="290.20" x2="75.50" y2="290.20" stroke="#000" stroke-width="0.7" />
<line x1="73.90" y1="291.58" x2="75.50" y2="291.58" stroke="#000" stroke-width="0.7" />
<line x1="73.90" y1="292.66" x2="75.50" y2="292.66" stroke="#000" stroke-width="0.7" />
<line x1="73.90" y1="293.54" x2="75.50" y2="293.54" stroke="#000" stroke-width="0.7" />
<line x1="73.90" y1="294.28" x2="75.50" y2="294.28" stroke="#000" stroke-width="0.7" />
<line x1="73.90" y1="294.92" x2="75.50" y2="294.92" stroke="#000" stroke-width="0.7" />
<line x1="73.90" y1="295.49" x2="75.50" y2="295.49" stroke="#000" stroke-width="0.7" />
<line x1="73.90" y1="298.24" x2="75.50" y2="298.24" stroke="#000" stroke-width="0.7" />
<line x1="73.90" y1="300.20" x2="75.50" y2="300.20" stroke="#000" stroke-width="0.7" />
<line x1="73.90" y1="301.58" x2="75.50" y2="301.58" stroke="#000" stroke-width="0.7" />
<line x1="73.90" y1="302.66" x2="75.50" y2="302.66" stroke="#000" stroke-width="0.7" />
<line x1="73.90" y1="303.54" x2="75.50" y2="303.54" stroke="#000" stroke-width="0.7" />
<line x1="73.90" y1="304.28" x2="75.50" y2="304.28" stroke="#000" stroke-width="0.7" />
<line x1="73.90" y1="304.92" x2="75.50" y2="304.92" stroke="#000" stroke-width="0.7" />
<line x1="73.90" y1="305.49" x2="75.50" y2="305.49" stroke="#000" stroke-width="0.7" />
<line x1="73.90" y1="310.44" x2="75.50" y2="310.44" stroke="#000" stroke-width="0.7" />
<line x1="73.90" y1="312.40" x2="75.50" y2="312.40" stroke="#000" stroke-width="0.7" />
<line x1="73.90" y1="313.78" x2="75.50" y2="313.78" stroke="#000" stroke-width="0.7" />
<line x1="73.90" y1="314.86" x2="75.50" y2="314.86" stroke="#000" stroke-width="0.7" />
<line x1="73.90" y1="315.74" x2="75.50" y2="315.74" stroke="#000" stroke-width="0.7" />
<line x1="73.90" y1="316.48" x2="75.50" y2="316.48" stroke="#000" stroke-width="0.7" />
<line x1="73.90" y1="317.12" x2="75.50" y2="317.12" stroke="#000" stroke-width="0.7" />
<line x1="73.90" y1="317.69" x2="75.50" y2="317.69" stroke="#000" stroke-width="0.7" />
<line x1="77.50" y1="327.40" x2="77.50" y2="329.60" stroke="#000" stroke-width="0.9" />
<line x1="85.70" y1="327.40" x2="85.70" y2="329.60" stroke="#000" stroke-width="0.9" />
<line x1="83.30" y1="327.40" x2="83.30" y2="329.00" stroke="#000" stroke-width="0.7" />
<line x1="84.10" y1="327.40" x2="84.10" y2="329.00" stroke="#000" stroke-width="0.7" />
<line x1="84.90" y1="327.40" x2="84.90" y2="329.00" stroke="#000" stroke-width="0.7" />
<line x1="86.50" y1="327.40" x2="86.50" y2="329.00" stroke="#000" stroke-width="0.7" />
<line x1="87.30" y1="327.40" x2="87.30" y2="329.00" stroke="#000" stroke-width="0.7" />
<line x1="88.10" y1="327.40" x2="88.10" y2="329.00" stroke="#000" stroke-width="0.7" />
<line x1="93.70" y1="327.40" x2="93.70" y2="329.60" stroke="#000" stroke-width="0.9" />
<line x1="107.00" y1="327.40" x2="107.00" y2="329.60" stroke="#000" stroke-width="0.9" />
<line x1="116.50" y1="327.40" x2="116.50" y2="329.60" stroke="#000" stroke-width="0.9" />
<line x1="85.73" y1="327.40" x2="85.73" y2="329.00" stroke="#000" stroke-width="0.7" />
<line x1="87.74" y1="327.40" x2="87.74" y2="329.00" stroke="#000" stroke-width="0.7" />
<line x1="89.16" y1="327.40" x2="89.16" y2="329.00" stroke="#000" stroke-width="0.7" />
<line x1="90.27" y1="327.40" x2="90.27" y2="329.00" stroke="#000" stroke-width="0.7" />
<line x1="91.17" y1="327.40" x2="91.17" y2="329.00" stroke="#000" stroke-width="0.7" />
<line x1="91.93" y1="327.40" x2="91.93" y2="329.00" stroke="#000" stroke-width="0.7" />
<line x1="92.60" y1="327.40" x2="92.60" y2="329.00" stroke="#000" stroke-width="0.7" />
<line x1="93.18" y1="327.40" x2="93.18" y2="329.00" stroke="#000" stroke-width="0.7" />
<line x1="97.13" y1="327.40" x2="97.13" y2="329.00" stroke="#000" stroke-width="0.7" />
<line x1="99.14" y1="327.40" x2="99.14" y2="329.00" stroke="#000" stroke-width="0.7" />
<line x1="100.56" y1="327.40" x2="100.56" y2="329.00" stroke="#000" stroke-width="0.7" />
<line x1="101.67" y1="327.40" x2="101.67" y2="329.00" stroke="#000" stroke-width="0.7" />
<line x1="102.57" y1="327.40" x2="102.57" y2="329.00" stroke="#000" stroke-width="0.7" />
<line x1="103.33" y1="327.40" x2="103.33" y2="329.00" stroke="#000" stroke-width="0.7" />
<line x1="104.00" y1="327.40" x2="104.00" y2="329.00" stroke="#000" stroke-width="0.7" />
<line x1="104.58" y1="327.40" x2="104.58" y2="329.00" stroke="#000" stroke-width="0.7" />
<line x1="110.43" y1="327.40" x2="110.43" y2="329.00" stroke="#000" stroke-width="0.7" />
<line x1="112.44" y1="327.40" x2="112.44" y2="329.00" stroke="#000" stroke-width="0.7" />
<line x1="113.86" y1="327.40" x2="113.86" y2="329.00" stroke="#000" stroke-width="0.7" />
<line x1="114.97" y1="327.40" x2="114.97" y2="329.00" stroke="#000" stroke-width="0.7" />
<line x1="115.87" y1="327.40" x2="115.87" y2="329.00" stroke="#000" stroke-width="0.7" />
<line x1="116.63" y1="327.40" x2="116.63" y2="329.00" stroke="#000" stroke-width="0.7" />
<line x1="117.30" y1="327.40" x2="117.30" y2="329.00" stroke="#000" stroke-width="0.7" />
<line x1="117.88" y1="327.40" x2="117.88" y2="329.00" stroke="#000" stroke-width="0.7" />
<line x1="119.93" y1="327.40" x2="119.93" y2="329.00" stroke="#000" stroke-width="0.7" />
<line x1="121.94" y1="327.40" x2="121.94" y2="329.00" stroke="#000" stroke-width="0.7" />
<text x="77.50" y="336.70" font-size="4.6" text-anchor="middle" fill="#333" stroke="#333" stroke-width="0.06" >-10<tspan font-size="70%" dy="-1.6">3</tspan></text>
<text x="85.70" y="336.70" font-size="4.6" text-anchor="middle" fill="#333" stroke="#333" stroke-width="0.06" >0</text>
<text x="93.70" y="336.70" font-size="4.6" text-anchor="middle" fill="#333" stroke="#333" stroke-width="0.06" >10<tspan font-size="70%" dy="-1.6">3</tspan></text>
<text x="107.00" y="336.70" font-size="4.6" text-anchor="middle" fill="#333" stroke="#333" stroke-width="0.06" >10<tspan font-size="70%" dy="-1.6">4</tspan></text>
<text x="116.50" y="336.70" font-size="4.6" text-anchor="middle" fill="#333" stroke="#333" stroke-width="0.06" >10<tspan font-size="70%" dy="-1.6">5</tspan></text>
<text x="139.00" y="286.50" font-size="4.6" text-anchor="end" fill="#333" stroke="#333" stroke-width="0.06" >10<tspan font-size="70%" dy="-1.6">5</tspan></text>
<text x="139.00" y="296.50" font-size="4.6" text-anchor="end" fill="#333" stroke="#333" stroke-width="0.06" >10<tspan font-size="70%" dy="-1.6">4</tspan></text>
<text x="139.00" y="308.70" font-size="4.6" text-anchor="end" fill="#333" stroke="#333" stroke-width="0.06" >10<tspan font-size="70%" dy="-1.6">3</tspan></text>
<text x="139.00" y="316.10" font-size="4.6" text-anchor="end" fill="#333" stroke="#333" stroke-width="0.06" >0</text>
<text x="139.00" y="325.10" font-size="4.6" text-anchor="end" fill="#333" stroke="#333" stroke-width="0.06" >-10<tspan font-size="70%" dy="-1.6">3</tspan></text>
<line x1="140.30" y1="284.90" x2="142.50" y2="284.90" stroke="#000" stroke-width="0.9" />
<line x1="140.30" y1="294.90" x2="142.50" y2="294.90" stroke="#000" stroke-width="0.9" />
<line x1="140.30" y1="307.10" x2="142.50" y2="307.10" stroke="#000" stroke-width="0.9" />
<line x1="140.30" y1="314.50" x2="142.50" y2="314.50" stroke="#000" stroke-width="0.9" />
<line x1="140.90" y1="312.10" x2="142.50" y2="312.10" stroke="#000" stroke-width="0.7" />
<line x1="140.90" y1="312.90" x2="142.50" y2="312.90" stroke="#000" stroke-width="0.7" />
<line x1="140.90" y1="313.70" x2="142.50" y2="313.70" stroke="#000" stroke-width="0.7" />
<line x1="140.90" y1="315.30" x2="142.50" y2="315.30" stroke="#000" stroke-width="0.7" />
<line x1="140.90" y1="316.10" x2="142.50" y2="316.10" stroke="#000" stroke-width="0.7" />
<line x1="140.90" y1="316.90" x2="142.50" y2="316.90" stroke="#000" stroke-width="0.7" />
<line x1="140.30" y1="323.50" x2="142.50" y2="323.50" stroke="#000" stroke-width="0.9" />
<line x1="140.90" y1="280.48" x2="142.50" y2="280.48" stroke="#000" stroke-width="0.7" />
<line x1="140.90" y1="281.56" x2="142.50" y2="281.56" stroke="#000" stroke-width="0.7" />
<line x1="140.90" y1="282.44" x2="142.50" y2="282.44" stroke="#000" stroke-width="0.7" />
<line x1="140.90" y1="283.18" x2="142.50" y2="283.18" stroke="#000" stroke-width="0.7" />
<line x1="140.90" y1="283.82" x2="142.50" y2="283.82" stroke="#000" stroke-width="0.7" />
<line x1="140.90" y1="284.39" x2="142.50" y2="284.39" stroke="#000" stroke-width="0.7" />
<line x1="140.90" y1="288.24" x2="142.50" y2="288.24" stroke="#000" stroke-width="0.7" />
<line x1="140.90" y1="290.20" x2="142.50" y2="290.20" stroke="#000" stroke-width="0.7" />
<line x1="140.90" y1="291.58" x2="142.50" y2="291.58" stroke="#000" stroke-width="0.7" />
<line x1="140.90" y1="292.66" x2="142.50" y2="292.66" stroke="#000" stroke-width="0.7" />
<line x1="140.90" y1="293.54" x2="142.50" y2="293.54" stroke="#000" stroke-width="0.7" />
<line x1="140.90" y1="294.28" x2="142.50" y2="294.28" stroke="#000" stroke-width="0.7" />
<line x1="140.90" y1="294.92" x2="142.50" y2="294.92" stroke="#000" stroke-width="0.7" />
<line x1="140.90" y1="295.49" x2="142.50" y2="295.49" stroke="#000" stroke-width="0.7" />
<line x1="140.90" y1="298.24" x2="142.50" y2="298.24" stroke="#000" stroke-width="0.7" />
<line x1="140.90" y1="300.20" x2="142.50" y2="300.20" stroke="#000" stroke-width="0.7" />
<line x1="140.90" y1="301.58" x2="142.50" y2="301.58" stroke="#000" stroke-width="0.7" />
<line x1="140.90" y1="302.66" x2="142.50" y2="302.66" stroke="#000" stroke-width="0.7" />
<line x1="140.90" y1="303.54" x2="142.50" y2="303.54" stroke="#000" stroke-width="0.7" />
<line x1="140.90" y1="304.28" x2="142.50" y2="304.28" stroke="#000" stroke-width="0.7" />
<line x1="140.90" y1="304.92" x2="142.50" y2="304.92" stroke="#000" stroke-width="0.7" />
<line x1="140.90" y1="305.49" x2="142.50" y2="305.49" stroke="#000" stroke-width="0.7" />
<line x1="140.90" y1="310.44" x2="142.50" y2="310.44" stroke="#000" stroke-width="0.7" />
<line x1="140.90" y1="312.40" x2="142.50" y2="312.40" stroke="#000" stroke-width="0.7" />
<line x1="140.90" y1="313.78" x2="142.50" y2="313.78" stroke="#000" stroke-width="0.7" />
<line x1="140.90" y1="314.86" x2="142.50" y2="314.86" stroke="#000" stroke-width="0.7" />
<line x1="140.90" y1="315.74" x2="142.50" y2="315.74" stroke="#000" stroke-width="0.7" />
<line x1="140.90" y1="316.48" x2="142.50" y2="316.48" stroke="#000" stroke-width="0.7" />
<line x1="140.90" y1="317.12" x2="142.50" y2="317.12" stroke="#000" stroke-width="0.7" />
<line x1="140.90" y1="317.69" x2="142.50" y2="317.69" stroke="#000" stroke-width="0.7" />
<line x1="144.50" y1="327.40" x2="144.50" y2="329.60" stroke="#000" stroke-width="0.9" />
<line x1="152.70" y1="327.40" x2="152.70" y2="329.60" stroke="#000" stroke-width="0.9" />
<line x1="150.30" y1="327.40" x2="150.30" y2="329.00" stroke="#000" stroke-width="0.7" />
<line x1="151.10" y1="327.40" x2="151.10" y2="329.00" stroke="#000" stroke-width="0.7" />
<line x1="151.90" y1="327.40" x2="151.90" y2="329.00" stroke="#000" stroke-width="0.7" />
<line x1="153.50" y1="327.40" x2="153.50" y2="329.00" stroke="#000" stroke-width="0.7" />
<line x1="154.30" y1="327.40" x2="154.30" y2="329.00" stroke="#000" stroke-width="0.7" />
<line x1="155.10" y1="327.40" x2="155.10" y2="329.00" stroke="#000" stroke-width="0.7" />
<line x1="160.70" y1="327.40" x2="160.70" y2="329.60" stroke="#000" stroke-width="0.9" />
<line x1="174.00" y1="327.40" x2="174.00" y2="329.60" stroke="#000" stroke-width="0.9" />
<line x1="183.50" y1="327.40" x2="183.50" y2="329.60" stroke="#000" stroke-width="0.9" />
<line x1="152.73" y1="327.40" x2="152.73" y2="329.00" stroke="#000" stroke-width="0.7" />
<line x1="154.74" y1="327.40" x2="154.74" y2="329.00" stroke="#000" stroke-width="0.7" />
<line x1="156.16" y1="327.40" x2="156.16" y2="329.00" stroke="#000" stroke-width="0.7" />
<line x1="157.27" y1="327.40" x2="157.27" y2="329.00" stroke="#000" stroke-width="0.7" />
<line x1="158.17" y1="327.40" x2="158.17" y2="329.00" stroke="#000" stroke-width="0.7" />
<line x1="158.93" y1="327.40" x2="158.93" y2="329.00" stroke="#000" stroke-width="0.7" />
<line x1="159.60" y1="327.40" x2="159.60" y2="329.00" stroke="#000" stroke-width="0.7" />
<line x1="160.18" y1="327.40" x2="160.18" y2="329.00" stroke="#000" stroke-width="0.7" />
<line x1="164.13" y1="327.40" x2="164.13" y2="329.00" stroke="#000" stroke-width="0.7" />
<line x1="166.14" y1="327.40" x2="166.14" y2="329.00" stroke="#000" stroke-width="0.7" />
<line x1="167.56" y1="327.40" x2="167.56" y2="329.00" stroke="#000" stroke-width="0.7" />
<line x1="168.67" y1="327.40" x2="168.67" y2="329.00" stroke="#000" stroke-width="0.7" />
<line x1="169.57" y1="327.40" x2="169.57" y2="329.00" stroke="#000" stroke-width="0.7" />
<line x1="170.33" y1="327.40" x2="170.33" y2="329.00" stroke="#000" stroke-width="0.7" />
<line x1="171.00" y1="327.40" x2="171.00" y2="329.00" stroke="#000" stroke-width="0.7" />
<line x1="171.58" y1="327.40" x2="171.58" y2="329.00" stroke="#000" stroke-width="0.7" />
<line x1="177.43" y1="327.40" x2="177.43" y2="329.00" stroke="#000" stroke-width="0.7" />
<line x1="179.44" y1="327.40" x2="179.44" y2="329.00" stroke="#000" stroke-width="0.7" />
<line x1="180.86" y1="327.40" x2="180.86" y2="329.00" stroke="#000" stroke-width="0.7" />
<line x1="181.97" y1="327.40" x2="181.97" y2="329.00" stroke="#000" stroke-width="0.7" />
<line x1="182.87" y1="327.40" x2="182.87" y2="329.00" stroke="#000" stroke-width="0.7" />
<line x1="183.63" y1="327.40" x2="183.63" y2="329.00" stroke="#000" stroke-width="0.7" />
<line x1="184.30" y1="327.40" x2="184.30" y2="329.00" stroke="#000" stroke-width="0.7" />
<line x1="184.88" y1="327.40" x2="184.88" y2="329.00" stroke="#000" stroke-width="0.7" />
<line x1="186.93" y1="327.40" x2="186.93" y2="329.00" stroke="#000" stroke-width="0.7" />
<line x1="188.94" y1="327.40" x2="188.94" y2="329.00" stroke="#000" stroke-width="0.7" />
<text x="144.50" y="336.70" font-size="4.6" text-anchor="middle" fill="#333" stroke="#333" stroke-width="0.06" >-10<tspan font-size="70%" dy="-1.6">3</tspan></text>
<text x="152.70" y="336.70" font-size="4.6" text-anchor="middle" fill="#333" stroke="#333" stroke-width="0.06" >0</text>
<text x="160.70" y="336.70" font-size="4.6" text-anchor="middle" fill="#333" stroke="#333" stroke-width="0.06" >10<tspan font-size="70%" dy="-1.6">3</tspan></text>
<text x="174.00" y="336.70" font-size="4.6" text-anchor="middle" fill="#333" stroke="#333" stroke-width="0.06" >10<tspan font-size="70%" dy="-1.6">4</tspan></text>
<text x="183.50" y="336.70" font-size="4.6" text-anchor="middle" fill="#333" stroke="#333" stroke-width="0.06" >10<tspan font-size="70%" dy="-1.6">5</tspan></text>
<defs><filter id="bl" x="-20%" y="-20%" width="140%" height="140%"><feGaussianBlur stdDeviation="0.55"/></filter></defs>
<g filter="url(#bl)">
<path d="M87.10,229.20 C87.57,228.40 86.87,227.87 88.50,226.80 C90.13,225.73 88.83,226.27 92.00,226.00 C95.17,225.73 94.00,225.93 98.00,226.00 C102.00,226.07 100.83,225.53 104.00,226.20 C107.17,226.87 105.33,226.07 107.50,228.00 C109.67,229.93 108.73,229.00 110.50,232.00 C112.27,235.00 111.80,233.67 112.80,237.00 C113.80,240.33 113.77,239.00 113.50,242.00 C113.23,245.00 113.33,243.83 112.00,246.00 C110.67,248.17 111.00,248.50 109.50,248.50 C108.00,248.50 109.00,248.17 107.50,246.00 C106.00,243.83 107.00,244.33 105.00,242.00 C103.00,239.67 104.17,240.67 101.50,239.00 C98.83,237.33 100.17,238.17 97.00,237.00 C93.83,235.83 94.83,236.67 92.00,235.50 C89.17,234.33 90.13,235.60 88.50,233.50 C86.87,231.40 87.57,230.63 87.10,229.20Z" fill="#0a28ff"/>
<path d="M89.00,229.00 C90.00,228.50 88.33,228.00 92.00,227.50 C95.67,227.00 95.33,226.93 100.00,227.50 C104.67,228.07 102.83,227.37 106.00,229.20 C109.17,231.03 107.67,230.07 109.50,233.00 C111.33,235.93 110.83,234.67 111.50,238.00 C112.17,241.33 112.17,240.83 111.50,243.00 C110.83,245.17 111.17,245.17 109.50,244.50 C107.83,243.83 109.00,243.33 106.50,241.00 C104.00,238.67 105.17,239.33 102.00,237.50 C98.83,235.67 100.33,236.67 97.00,235.50 C93.67,234.33 94.50,235.17 92.00,234.00 C89.50,232.83 90.50,233.67 89.50,232.00 C88.50,230.33 89.17,230.00 89.00,229.00Z" fill="#3cc8ff"/>
<path d="M97.00,228.50 C99.00,228.27 99.67,227.23 103.00,227.80 C106.33,228.37 104.83,228.13 107.00,230.20 C109.17,232.27 108.33,231.23 109.50,234.00 C110.67,236.77 111.00,236.50 110.50,238.50 C110.00,240.50 110.17,240.17 108.00,240.00 C105.83,239.83 106.83,239.50 104.00,238.00 C101.17,236.50 102.00,237.50 99.50,235.50 C97.00,233.50 97.33,234.33 96.50,232.00 C95.67,229.67 96.83,229.67 97.00,228.50Z" fill="#7ae47a"/>
<path d="M100.00,230.00 C101.33,229.83 101.67,228.90 104.00,229.50 C106.33,230.10 105.73,229.87 107.00,231.80 C108.27,233.73 108.63,233.90 107.80,235.30 C106.97,236.70 106.93,236.60 104.50,236.00 C102.07,235.40 102.00,235.50 100.50,233.50 C99.00,231.50 100.17,231.17 100.00,230.00Z" fill="#eaf03a"/>
<path d="M102.00,231.50 C102.83,231.43 103.17,230.70 104.50,231.30 C105.83,231.90 106.00,232.23 106.00,233.30 C106.00,234.37 105.83,234.50 104.50,234.50 C103.17,234.50 102.83,234.30 102.00,233.30 C101.17,232.30 102.00,232.10 102.00,231.50Z" fill="#ee1408"/>
</g>
<g filter="url(#bl)">
<path d="M161.00,232.00 C161.67,231.27 160.67,230.70 163.00,229.80 C165.33,228.90 164.83,229.17 168.00,229.30 C171.17,229.43 169.67,228.97 172.50,230.20 C175.33,231.43 173.67,230.73 176.50,233.00 C179.33,235.27 178.67,234.33 181.00,237.00 C183.33,239.67 182.57,237.67 183.50,241.00 C184.43,244.33 184.30,243.50 183.80,247.00 C183.30,250.50 184.27,249.43 182.00,251.50 C179.73,253.57 181.00,252.80 177.00,253.20 C173.00,253.60 173.67,254.10 170.00,252.70 C166.33,251.30 167.57,252.23 166.00,249.00 C164.43,245.77 165.97,246.67 165.30,243.00 C164.63,239.33 165.10,240.67 164.00,238.00 C162.90,235.33 163.00,237.00 162.00,235.00 C161.00,233.00 161.33,233.00 161.00,232.00Z" fill="#0a28ff"/>
<path d="M163.00,232.00 C164.67,231.60 164.67,230.87 168.00,230.80 C171.33,230.73 170.00,230.57 173.00,231.80 C176.00,233.03 174.50,232.43 177.00,234.50 C179.50,236.57 178.77,235.50 180.50,238.00 C182.23,240.50 181.60,239.00 182.20,242.00 C182.80,245.00 182.87,244.17 182.30,247.00 C181.73,249.83 182.43,248.93 180.50,250.50 C178.57,252.07 179.67,251.47 176.50,251.70 C173.33,251.93 174.00,252.43 171.00,251.20 C168.00,249.97 168.90,250.73 167.50,248.00 C166.10,245.27 167.40,246.33 166.80,243.00 C166.20,239.67 166.63,240.83 165.70,238.00 C164.77,235.17 164.90,236.50 164.00,234.50 C163.10,232.50 163.33,232.83 163.00,232.00Z" fill="#3cc8ff"/>
<path d="M166.00,234.00 C167.67,233.77 167.83,232.63 171.00,233.30 C174.17,233.97 172.83,233.93 175.50,236.00 C178.17,238.07 177.17,237.17 179.00,239.50 C180.83,241.83 180.33,240.17 181.00,243.00 C181.67,245.83 181.83,245.50 181.00,248.00 C180.17,250.50 181.17,249.73 178.50,250.50 C175.83,251.27 176.17,251.13 173.00,250.30 C169.83,249.47 170.50,250.43 169.00,248.00 C167.50,245.57 168.83,246.33 168.50,243.00 C168.17,239.67 168.83,241.00 168.00,238.00 C167.17,235.00 166.67,235.33 166.00,234.00Z" fill="#7ae47a"/>
<path d="M171.50,241.00 C172.67,240.83 172.83,240.00 175.00,240.50 C177.17,241.00 176.73,240.50 178.00,242.50 C179.27,244.50 178.97,244.33 178.80,246.50 C178.63,248.67 179.10,248.07 177.50,249.00 C175.90,249.93 175.90,249.70 174.00,249.30 C172.10,248.90 172.80,249.57 171.80,247.80 C170.80,246.03 171.10,246.27 171.00,244.00 C170.90,241.73 171.33,242.00 171.50,241.00Z" fill="#eaf03a"/>
<path d="M173.20,244.80 C174.07,244.47 174.60,243.53 175.80,243.80 C177.00,244.07 176.90,244.37 176.80,245.60 C176.70,246.83 176.67,246.77 175.50,247.50 C174.33,248.23 174.20,248.20 173.30,247.80 C172.40,247.40 172.83,247.30 172.80,246.30 C172.77,245.30 173.07,245.30 173.20,244.80Z" fill="#ee1408"/>
</g>
<g filter="url(#bl)">
<path d="M85.00,290.50 C85.67,289.50 83.67,288.73 87.00,287.50 C90.33,286.27 89.67,286.70 95.00,286.80 C100.33,286.90 99.00,286.80 103.00,287.80 C107.00,288.80 104.83,287.97 107.00,289.80 C109.17,291.63 109.00,290.90 109.50,293.30 C110.00,295.70 109.67,294.77 108.50,297.00 C107.33,299.23 108.17,298.50 106.00,300.00 C103.83,301.50 104.17,301.67 102.00,301.50 C99.83,301.33 101.50,300.90 99.50,299.50 C97.50,298.10 98.83,298.53 96.00,297.30 C93.17,296.07 94.00,296.83 91.00,295.80 C88.00,294.77 89.00,295.97 87.00,294.20 C85.00,292.43 85.67,291.73 85.00,290.50Z" fill="#0a28ff"/>
<path d="M86.60,290.50 C87.23,289.80 85.70,289.23 88.50,288.40 C91.30,287.57 90.17,287.80 95.00,288.00 C99.83,288.20 99.23,288.00 103.00,289.00 C106.77,290.00 104.70,289.40 106.30,291.00 C107.90,292.60 107.80,291.80 107.80,293.80 C107.80,295.80 107.73,295.10 106.30,297.00 C104.87,298.90 105.43,299.17 103.50,299.50 C101.57,299.83 103.00,299.17 100.50,298.00 C98.00,296.83 99.17,297.10 96.00,296.00 C92.83,294.90 93.73,295.60 91.00,294.70 C88.27,293.80 89.27,294.70 87.80,293.30 C86.33,291.90 87.00,291.43 86.60,290.50Z" fill="#3cc8ff"/>
<path d="M88.30,290.30 C88.87,289.87 87.43,289.43 90.00,289.00 C92.57,288.57 91.83,288.67 96.00,289.00 C100.17,289.33 99.33,289.00 102.50,290.00 C105.67,291.00 104.33,290.50 105.50,292.00 C106.67,293.50 106.67,293.00 106.00,294.50 C105.33,296.00 106.17,296.17 103.50,296.50 C100.83,296.83 101.83,296.33 98.00,295.50 C94.17,294.67 95.00,295.00 92.00,294.00 C89.00,293.00 90.23,293.73 89.00,292.50 C87.77,291.27 88.53,291.03 88.30,290.30Z" fill="#7ae47a"/>
<path d="M90.50,290.50 C92.33,290.33 92.17,289.90 96.00,290.00 C99.83,290.10 99.17,289.97 102.00,290.80 C104.83,291.63 104.00,291.10 104.50,292.50 C105.00,293.90 105.33,294.30 103.50,295.00 C101.67,295.70 102.17,295.10 99.00,294.60 C95.83,294.10 96.67,294.23 94.00,293.50 C91.33,292.77 92.17,293.40 91.00,292.40 C89.83,291.40 90.67,291.13 90.50,290.50Z" fill="#eaf03a"/>
<path d="M99.50,292.30 C100.33,292.27 100.50,291.90 102.00,292.20 C103.50,292.50 103.83,292.53 104.00,293.20 C104.17,293.87 103.90,294.00 102.50,294.20 C101.10,294.40 100.80,294.43 99.80,293.80 C98.80,293.17 99.60,292.80 99.50,292.30Z" fill="#ee1408"/>
</g>
<g filter="url(#bl)">
<path d="M152.00,291.50 C152.67,290.33 151.33,289.33 154.00,288.00 C156.67,286.67 155.67,287.33 160.00,287.50 C164.33,287.67 163.00,287.33 167.00,288.50 C171.00,289.67 169.00,288.83 172.00,291.00 C175.00,293.17 173.83,292.00 176.00,295.00 C178.17,298.00 177.17,296.33 178.50,300.00 C179.83,303.67 179.33,301.67 180.00,306.00 C180.67,310.33 180.83,309.17 180.50,313.00 C180.17,316.83 181.17,315.77 179.00,317.50 C176.83,319.23 177.17,318.37 174.00,318.20 C170.83,318.03 171.33,319.40 169.50,317.00 C167.67,314.60 169.17,315.17 168.50,311.00 C167.83,306.83 168.67,308.00 167.50,304.50 C166.33,301.00 167.17,302.67 165.00,300.50 C162.83,298.33 164.00,299.17 161.00,298.00 C158.00,296.83 158.67,298.00 156.00,297.00 C153.33,296.00 154.33,296.83 153.00,295.00 C151.67,293.17 152.33,292.67 152.00,291.50Z" fill="#0a28ff"/>
<path d="M153.80,291.50 C154.53,290.67 153.60,289.90 156.00,289.00 C158.40,288.10 157.33,288.53 161.00,288.80 C164.67,289.07 163.50,288.63 167.00,289.80 C170.50,290.97 168.83,290.23 171.50,292.30 C174.17,294.37 173.10,293.10 175.00,296.00 C176.90,298.90 176.03,297.33 177.20,301.00 C178.37,304.67 177.97,303.00 178.50,307.00 C179.03,311.00 179.13,309.90 178.80,313.00 C178.47,316.10 179.10,315.03 177.50,316.30 C175.90,317.57 176.17,317.07 174.00,316.80 C171.83,316.53 172.27,317.77 171.00,315.50 C169.73,313.23 170.70,313.83 170.20,310.00 C169.70,306.17 170.57,307.33 169.50,304.00 C168.43,300.67 169.50,302.33 167.00,300.00 C164.50,297.67 165.33,298.33 162.00,297.00 C158.67,295.67 159.50,297.00 157.00,296.00 C154.50,295.00 155.57,295.50 154.50,294.00 C153.43,292.50 154.03,292.33 153.80,291.50Z" fill="#3cc8ff"/>
<path d="M155.50,291.30 C157.33,290.87 157.17,290.10 161.00,290.00 C164.83,289.90 163.67,289.83 167.00,291.00 C170.33,292.17 168.50,291.33 171.00,293.50 C173.50,295.67 172.73,294.50 174.50,297.50 C176.27,300.50 175.47,299.00 176.30,302.50 C177.13,306.00 176.77,304.17 177.00,308.00 C177.23,311.83 178.00,311.67 177.00,314.00 C176.00,316.33 175.67,315.33 174.00,315.00 C172.33,314.67 172.83,315.67 172.00,313.00 C171.17,310.33 172.00,310.67 171.50,307.00 C171.00,303.33 171.67,304.83 170.50,302.00 C169.33,299.17 170.83,300.50 168.00,298.50 C165.17,296.50 165.67,297.17 162.00,296.00 C158.33,294.83 159.17,295.83 157.00,295.00 C154.83,294.17 156.00,294.73 155.50,293.50 C155.00,292.27 155.50,292.03 155.50,291.30Z" fill="#7ae47a"/>
<path d="M157.00,291.50 C158.67,291.27 158.50,290.70 162.00,290.80 C165.50,290.90 164.50,290.73 167.50,291.80 C170.50,292.87 169.23,292.10 171.00,294.00 C172.77,295.90 172.97,296.07 172.80,297.50 C172.63,298.93 172.43,298.30 170.50,298.30 C168.57,298.30 169.83,298.43 167.00,297.50 C164.17,296.57 165.17,296.50 162.00,295.50 C158.83,294.50 159.17,295.83 157.50,294.50 C155.83,293.17 157.17,292.50 157.00,291.50Z" fill="#eaf03a"/>
<path d="M163.50,292.30 C164.67,292.30 164.83,291.63 167.00,292.30 C169.17,292.97 168.83,293.00 170.00,294.30 C171.17,295.60 171.00,295.53 170.50,296.20 C170.00,296.87 170.17,296.70 168.50,296.30 C166.83,295.90 167.27,295.83 165.50,295.00 C163.73,294.17 163.87,294.70 163.20,293.80 C162.53,292.90 163.40,292.80 163.50,292.30Z" fill="#ee1408"/>
</g>
<g fill="none" stroke="#3a3a3a" stroke-width="0.75">
<rect x="77.00" y="225.80" width="32.50" height="9.20"/>
<line x1="92.5" y1="225.8" x2="92.5" y2="235" stroke="#111" stroke-width="1"/>
<line x1="97.5" y1="225.8" x2="97.5" y2="235" stroke="#111" stroke-width="1"/>
<rect x="100.4" y="235" width="12.50" height="5.00" stroke="#111"/>
<rect x="103.2" y="240" width="11.60" height="13.30"/>
</g>
<g fill="none" stroke="#3a3a3a" stroke-width="0.75">
<rect x="142.00" y="225.30" width="34.80" height="9.00"/>
<line x1="158.5" y1="225.3" x2="158.5" y2="234.3" stroke="#111" stroke-width="1"/>
<line x1="163.3" y1="225.3" x2="163.3" y2="234.3" stroke="#111" stroke-width="1"/>
<rect x="166.7" y="234.3" width="12.90" height="5.00" stroke="#111"/>
<rect x="169.2" y="239.3" width="13.30" height="14.40"/>
</g>
<g fill="none" stroke="#3a3a3a" stroke-width="0.75">
<rect x="75.50" y="287.00" width="33.40" height="9.30"/>
<line x1="90.4" y1="287" x2="90.4" y2="296.3" stroke="#111" stroke-width="1"/>
<line x1="96.5" y1="287" x2="96.5" y2="296.3" stroke="#111" stroke-width="1"/>
<rect x="99.4" y="296.3" width="13.10" height="5.10" stroke="#111"/>
<rect x="102.1" y="301.4" width="12.60" height="14.70"/>
</g>
<g fill="none" stroke="#3a3a3a" stroke-width="0.75">
<rect x="142.50" y="287.20" width="33.50" height="11.90"/>
<line x1="156.6" y1="287.2" x2="156.6" y2="299.1" stroke="#111" stroke-width="1"/>
<line x1="162.7" y1="287.2" x2="162.7" y2="299.1" stroke="#111" stroke-width="1"/>
<rect x="166.1" y="299.1" width="12.80" height="5.20" stroke="#111"/>
<rect x="168.1" y="304.3" width="13.30" height="13.80"/>
</g>
<text x="84.50" y="226.00" font-size="4.6" text-anchor="middle" fill="#333" stroke="#333" stroke-width="0.13" >Pro</text>
<text x="94.80" y="225.40" font-size="4.6" text-anchor="middle" fill="#333" stroke="#333" stroke-width="0.13" >EB</text>
<text x="103.20" y="225.40" font-size="4.6" text-anchor="middle" fill="#333" stroke="#333" stroke-width="0.13" >LB</text>
<text x="117.30" y="231.80" font-size="4.8" text-anchor="middle" fill="#333" stroke="#333" stroke-width="0.13" >Poly</text>
<text x="96.50" y="248.60" font-size="4.8" text-anchor="middle" fill="#333" stroke="#333" stroke-width="0.13" >Ortho</text>
<rect x="77.00" y="216.00" width="46.30" height="46.70" fill="none" stroke="#000" stroke-width="1.1" />
<rect x="142.00" y="215.50" width="47.90" height="47.20" fill="none" stroke="#000" stroke-width="1.1" />
<rect x="75.50" y="279.50" width="47.50" height="47.90" fill="none" stroke="#000" stroke-width="1.1" />
<rect x="142.50" y="279.50" width="47.80" height="47.90" fill="none" stroke="#000" stroke-width="1.1" />
<text x="204.60" y="197.90" font-size="10.5" text-anchor="start" fill="#231f20" stroke="#231f20" stroke-width="0.22" >D</text>
<path d="M248.7,228.8 V318.3 H331.9" fill="none" stroke="#111" stroke-width="1.2"/>
<line x1="246.20" y1="318.30" x2="248.70" y2="318.30" stroke="#111" stroke-width="1" />
<text x="243.20" y="321.00" font-size="7.8" text-anchor="end" fill="#222" stroke="#222" stroke-width="0.21" textLength="4.00" lengthAdjust="spacingAndGlyphs" >0</text>
<line x1="246.20" y1="300.40" x2="248.70" y2="300.40" stroke="#111" stroke-width="1" />
<text x="243.20" y="303.10" font-size="7.8" text-anchor="end" fill="#222" stroke="#222" stroke-width="0.21" textLength="8.00" lengthAdjust="spacingAndGlyphs" >20</text>
<line x1="246.20" y1="282.50" x2="248.70" y2="282.50" stroke="#111" stroke-width="1" />
<text x="243.20" y="285.20" font-size="7.8" text-anchor="end" fill="#222" stroke="#222" stroke-width="0.21" textLength="8.00" lengthAdjust="spacingAndGlyphs" >40</text>
<line x1="246.20" y1="264.60" x2="248.70" y2="264.60" stroke="#111" stroke-width="1" />
<text x="243.20" y="267.30" font-size="7.8" text-anchor="end" fill="#222" stroke="#222" stroke-width="0.21" textLength="8.00" lengthAdjust="spacingAndGlyphs" >60</text>
<line x1="246.20" y1="246.70" x2="248.70" y2="246.70" stroke="#111" stroke-width="1" />
<text x="243.20" y="249.40" font-size="7.8" text-anchor="end" fill="#222" stroke="#222" stroke-width="0.21" textLength="8.00" lengthAdjust="spacingAndGlyphs" >80</text>
<line x1="246.20" y1="228.80" x2="248.70" y2="228.80" stroke="#111" stroke-width="1" />
<text x="243.20" y="231.50" font-size="7.8" text-anchor="end" fill="#222" stroke="#222" stroke-width="0.21" textLength="12.00" lengthAdjust="spacingAndGlyphs" >100</text>
<text x="224.40" y="269.40" font-size="8.8" text-anchor="middle" fill="#231f20" stroke="#231f20" stroke-width="0.22" textLength="114.20" lengthAdjust="spacingAndGlyphs" transform="rotate(-90 224.40 269.40)" >Percentage of each stage cells</text>
<rect x="254.40" y="315.08" width="13.60" height="3.22" fill="#4e1f66" />
<rect x="254.40" y="307.83" width="13.60" height="7.25" fill="#e0941f" />
<rect x="254.40" y="254.75" width="13.60" height="53.07" fill="#356b52" />
<rect x="254.40" y="236.32" width="13.60" height="18.44" fill="#9a8bc6" />
<rect x="254.40" y="233.28" width="13.60" height="3.04" fill="#4d5467" />
<line x1="261.20" y1="315.97" x2="261.20" y2="314.18" stroke="#000" stroke-width="0.9" />
<line x1="259.20" y1="314.18" x2="263.20" y2="314.18" stroke="#000" stroke-width="0.9" />
<line x1="261.20" y1="308.37" x2="261.20" y2="307.29" stroke="#000" stroke-width="0.9" />
<line x1="259.20" y1="307.29" x2="263.20" y2="307.29" stroke="#000" stroke-width="0.9" />
<line x1="261.20" y1="255.20" x2="261.20" y2="254.31" stroke="#000" stroke-width="0.9" />
<line x1="259.20" y1="254.31" x2="263.20" y2="254.31" stroke="#000" stroke-width="0.9" />
<line x1="261.20" y1="236.86" x2="261.20" y2="235.78" stroke="#000" stroke-width="0.9" />
<line x1="259.20" y1="235.78" x2="263.20" y2="235.78" stroke="#000" stroke-width="0.9" />
<line x1="261.20" y1="233.81" x2="261.20" y2="232.74" stroke="#000" stroke-width="0.9" />
<line x1="259.20" y1="232.74" x2="263.20" y2="232.74" stroke="#000" stroke-width="0.9" />
<line x1="261.20" y1="318.30" x2="261.20" y2="320.80" stroke="#111" stroke-width="1" />
<rect x="274.00" y="296.37" width="13.60" height="21.93" fill="#4e1f66" />
<rect x="274.00" y="279.28" width="13.60" height="17.09" fill="#e0941f" />
<rect x="274.00" y="237.03" width="13.60" height="42.24" fill="#356b52" />
<rect x="274.00" y="235.06" width="13.60" height="1.97" fill="#9a8bc6" />
<rect x="274.00" y="234.62" width="13.60" height="0.45" fill="#4d5467" />
<line x1="280.80" y1="296.91" x2="280.80" y2="295.84" stroke="#000" stroke-width="0.9" />
<line x1="278.80" y1="295.84" x2="282.80" y2="295.84" stroke="#000" stroke-width="0.9" />
<line x1="280.80" y1="236.41" x2="280.80" y2="233.72" stroke="#000" stroke-width="0.9" />
<line x1="278.80" y1="233.72" x2="282.80" y2="233.72" stroke="#000" stroke-width="0.9" />
<line x1="280.80" y1="318.30" x2="280.80" y2="320.80" stroke="#111" stroke-width="1" />
<rect x="293.30" y="313.20" width="13.60" height="5.10" fill="#356b52" />
<rect x="293.30" y="300.85" width="13.60" height="12.35" fill="#9a8bc6" />
<rect x="293.30" y="235.60" width="13.60" height="65.25" fill="#4d5467" />
<line x1="300.10" y1="314.54" x2="300.10" y2="311.86" stroke="#000" stroke-width="0.9" />
<line x1="298.10" y1="311.86" x2="302.10" y2="311.86" stroke="#000" stroke-width="0.9" />
<line x1="300.10" y1="302.19" x2="300.10" y2="299.50" stroke="#000" stroke-width="0.9" />
<line x1="298.10" y1="299.50" x2="302.10" y2="299.50" stroke="#000" stroke-width="0.9" />
<line x1="300.10" y1="238.73" x2="300.10" y2="232.47" stroke="#000" stroke-width="0.9" />
<line x1="298.10" y1="232.47" x2="302.10" y2="232.47" stroke="#000" stroke-width="0.9" />
<line x1="300.10" y1="318.30" x2="300.10" y2="320.80" stroke="#111" stroke-width="1" />
<rect x="312.10" y="287.06" width="13.60" height="31.24" fill="#4e1f66" />
<rect x="312.10" y="269.79" width="13.60" height="17.27" fill="#e0941f" />
<rect x="312.10" y="252.25" width="13.60" height="17.54" fill="#356b52" />
<rect x="312.10" y="244.02" width="13.60" height="8.23" fill="#9a8bc6" />
<rect x="312.10" y="235.60" width="13.60" height="8.41" fill="#4d5467" />
<line x1="318.90" y1="287.96" x2="318.90" y2="286.17" stroke="#000" stroke-width="0.9" />
<line x1="316.90" y1="286.17" x2="320.90" y2="286.17" stroke="#000" stroke-width="0.9" />
<line x1="318.90" y1="271.40" x2="318.90" y2="268.18" stroke="#000" stroke-width="0.9" />
<line x1="316.90" y1="268.18" x2="320.90" y2="268.18" stroke="#000" stroke-width="0.9" />
<line x1="318.90" y1="244.91" x2="318.90" y2="243.12" stroke="#000" stroke-width="0.9" />
<line x1="316.90" y1="243.12" x2="320.90" y2="243.12" stroke="#000" stroke-width="0.9" />
<line x1="318.90" y1="318.30" x2="318.90" y2="320.80" stroke="#111" stroke-width="1" />
<text x="263.70" y="325.70" font-size="8" text-anchor="end" fill="#222" stroke="#222" stroke-width="0.22" textLength="67.50" lengthAdjust="spacingAndGlyphs" transform="rotate(-45 263.70 325.70)" >Luciferase-CFU-E-D5</text>
<text x="283.30" y="325.70" font-size="8" text-anchor="end" fill="#222" stroke="#222" stroke-width="0.22" textLength="60.50" lengthAdjust="spacingAndGlyphs" transform="rotate(-45 283.30 325.70)" >TET2 KD-CFU-E-D5</text>
<text x="302.60" y="325.70" font-size="8" text-anchor="end" fill="#222" stroke="#222" stroke-width="0.22" textLength="69.80" lengthAdjust="spacingAndGlyphs" transform="rotate(-45 302.60 325.70)" >Luciferase-CFU-E-D15</text>
<text x="321.40" y="325.70" font-size="8" text-anchor="end" fill="#222" stroke="#222" stroke-width="0.22" textLength="63.20" lengthAdjust="spacingAndGlyphs" transform="rotate(-45 321.40 325.70)" >TET2 KD-CFU-E-D15</text>
<rect x="227.30" y="392.30" width="11.00" height="5.80" fill="#4e1f66" />
<text x="241.20" y="397.90" font-size="7.8" text-anchor="start" fill="#222" stroke="#222" stroke-width="0.21" textLength="9.80" lengthAdjust="spacingAndGlyphs" >Pro</text>
<rect x="259.40" y="392.30" width="11.00" height="5.80" fill="#e0941f" />
<text x="272.90" y="397.90" font-size="7.8" text-anchor="start" fill="#222" stroke="#222" stroke-width="0.21" textLength="7.90" lengthAdjust="spacingAndGlyphs" >EB</text>
<rect x="293.50" y="392.30" width="11.00" height="5.80" fill="#356b52" />
<text x="307.50" y="397.90" font-size="7.8" text-anchor="start" fill="#222" stroke="#222" stroke-width="0.21" textLength="7.60" lengthAdjust="spacingAndGlyphs" >LB</text>
<rect x="238.30" y="406.50" width="11.00" height="5.80" fill="#9a8bc6" />
<text x="251.70" y="412.10" font-size="7.8" text-anchor="start" fill="#222" stroke="#222" stroke-width="0.21" textLength="13.00" lengthAdjust="spacingAndGlyphs" >Poly</text>
<rect x="271.90" y="406.50" width="11.00" height="5.80" fill="#4d5467" />
<text x="286.00" y="412.10" font-size="7.8" text-anchor="start" fill="#222" stroke="#222" stroke-width="0.21" textLength="18.30" lengthAdjust="spacingAndGlyphs" >Ortho</text>
<text x="346.30" y="198.00" font-size="10.5" text-anchor="start" fill="#231f20" stroke="#231f20" stroke-width="0.22" >E</text>
<text x="428.50" y="214.80" font-size="7.6" text-anchor="middle" fill="#231f20" stroke="#231f20" stroke-width="0.08" >D5</text>
<text x="484.40" y="214.80" font-size="7.6" text-anchor="middle" fill="#231f20" stroke="#231f20" stroke-width="0.08" >D15</text>
<text x="374.00" y="242.00" font-size="8.2" text-anchor="middle" fill="#231f20" stroke="#231f20" stroke-width="0.22" textLength="33.50" lengthAdjust="spacingAndGlyphs" >Luciferase</text>
<text x="374.25" y="251.30" font-size="8.2" text-anchor="middle" fill="#231f20" stroke="#231f20" stroke-width="0.22" textLength="23.10" lengthAdjust="spacingAndGlyphs" >-CFU-E</text>
<text x="376.90" y="285.80" font-size="8.2" text-anchor="middle" fill="#231f20" stroke="#231f20" stroke-width="0.22" textLength="27.80" lengthAdjust="spacingAndGlyphs" >TET2 KD</text>
<text x="376.90" y="295.00" font-size="8.2" text-anchor="middle" fill="#231f20" stroke="#231f20" stroke-width="0.22" textLength="22.80" lengthAdjust="spacingAndGlyphs" >-CFU-E</text>
<defs>
<radialGradient id="cellA" cx="50%" cy="50%" r="50%"><stop offset="0" stop-color="#9a86c8"/><stop offset="0.7" stop-color="#9486c8"/><stop offset="1" stop-color="#6a72c4"/></radialGradient>
<radialGradient id="cellB" cx="50%" cy="50%" r="50%"><stop offset="0" stop-color="#8068b4"/><stop offset="0.7" stop-color="#8478c0"/><stop offset="1" stop-color="#5e68c2"/></radialGradient>
<radialGradient id="cellR" cx="50%" cy="50%" r="50%"><stop offset="0" stop-color="#b4a0b4"/><stop offset="0.7" stop-color="#cabec8"/><stop offset="1" stop-color="#a29cae"/></radialGradient>
<radialGradient id="nuc" cx="50%" cy="50%" r="50%"><stop offset="0" stop-color="#2c1656"/><stop offset="0.7" stop-color="#3c2268"/><stop offset="1" stop-color="#5a3c80" stop-opacity="0.6"/></radialGradient>
<filter id="bl2" x="-10%" y="-10%" width="120%" height="120%"><feGaussianBlur stdDeviation="0.38"/></filter>
</defs>
<rect x="395.00" y="219.40" width="58.20" height="43.80" fill="#e7e8d9" />
<rect x="454.30" y="219.40" width="58.50" height="43.80" fill="#f3f7db" />
<rect x="395.00" y="264.80" width="58.20" height="43.50" fill="#e6e8dc" />
<rect x="454.30" y="264.80" width="58.50" height="43.50" fill="#e9ebde" />
<g filter="url(#bl2)">
<ellipse cx="399.5" cy="261.6" rx="4.5" ry="2" fill="#a584c6" opacity="0.75"/>
<circle cx="406.70" cy="225.50" r="5.75" fill="none" stroke="#f2f2ee" stroke-width="0.6"/>
<circle cx="406.70" cy="225.50" r="5.20" fill="url(#cellA)" stroke="#4c56b6" stroke-width="0.90"/>
<ellipse cx="405.24" cy="226.96" rx="2.70" ry="2.34" fill="#5e3a94" opacity="0.5"/>
<ellipse cx="408.52" cy="223.68" rx="1.98" ry="1.66" fill="#d2cdec" opacity="0.75"/>
<circle cx="415.30" cy="229.00" r="4.05" fill="none" stroke="#f2f2ee" stroke-width="0.6"/>
<circle cx="415.30" cy="229.00" r="3.50" fill="url(#cellA)" stroke="#4c56b6" stroke-width="0.83"/>
<ellipse cx="415.02" cy="228.02" rx="1.82" ry="1.57" fill="#5e3a94" opacity="0.5"/>
<ellipse cx="415.65" cy="230.22" rx="1.33" ry="1.12" fill="#d2cdec" opacity="0.75"/>
<circle cx="427.80" cy="229.00" r="3.35" fill="none" stroke="#f2f2ee" stroke-width="0.6"/>
<circle cx="427.80" cy="229.00" r="2.80" fill="url(#cellA)" stroke="#4c56b6" stroke-width="0.70"/>
<ellipse cx="427.80" cy="228.33" rx="1.46" ry="1.26" fill="#5e3a94" opacity="0.5"/>
<ellipse cx="427.80" cy="229.84" rx="1.06" ry="0.90" fill="#d2cdec" opacity="0.75"/>
<circle cx="421.70" cy="234.20" r="4.55" fill="none" stroke="#f2f2ee" stroke-width="0.6"/>
<circle cx="421.70" cy="234.20" r="4.00" fill="url(#cellA)" stroke="#4c56b6" stroke-width="0.90"/>
<ellipse cx="421.38" cy="233.08" rx="2.08" ry="1.80" fill="#5e3a94" opacity="0.5"/>
<ellipse cx="422.10" cy="235.60" rx="1.52" ry="1.28" fill="#d2cdec" opacity="0.75"/>
<circle cx="430.70" cy="235.50" r="3.75" fill="none" stroke="#f2f2ee" stroke-width="0.6"/>
<circle cx="430.70" cy="235.50" r="3.20" fill="url(#cellA)" stroke="#4c56b6" stroke-width="0.78"/>
<ellipse cx="430.19" cy="234.99" rx="1.66" ry="1.44" fill="#5e3a94" opacity="0.5"/>
<ellipse cx="431.34" cy="236.14" rx="1.22" ry="1.02" fill="#d2cdec" opacity="0.75"/>
<circle cx="426.90" cy="242.20" r="3.55" fill="none" stroke="#f2f2ee" stroke-width="0.6"/>
<circle cx="426.90" cy="242.20" r="3.00" fill="url(#cellA)" stroke="#4c56b6" stroke-width="0.74"/>
<ellipse cx="426.66" cy="241.48" rx="1.56" ry="1.35" fill="#5e3a94" opacity="0.5"/>
<ellipse cx="427.20" cy="243.10" rx="1.14" ry="0.96" fill="#d2cdec" opacity="0.75"/>
<circle cx="433.80" cy="241.70" r="3.55" fill="none" stroke="#f2f2ee" stroke-width="0.6"/>
<circle cx="433.80" cy="241.70" r="3.00" fill="url(#cellA)" stroke="#4c56b6" stroke-width="0.74"/>
<ellipse cx="433.32" cy="242.18" rx="1.56" ry="1.35" fill="#5e3a94" opacity="0.5"/>
<ellipse cx="434.40" cy="241.10" rx="1.14" ry="0.96" fill="#d2cdec" opacity="0.75"/>
<circle cx="421.30" cy="248.60" r="4.35" fill="none" stroke="#f2f2ee" stroke-width="0.6"/>
<circle cx="421.30" cy="248.60" r="3.80" fill="url(#cellA)" stroke="#4c56b6" stroke-width="0.88"/>
<ellipse cx="421.60" cy="247.99" rx="1.98" ry="1.71" fill="#5e3a94" opacity="0.5"/>
<ellipse cx="420.92" cy="249.36" rx="1.44" ry="1.22" fill="#d2cdec" opacity="0.75"/>
<circle cx="430.30" cy="249.30" r="5.45" fill="none" stroke="#f2f2ee" stroke-width="0.6"/>
<circle cx="430.30" cy="249.30" r="4.90" fill="url(#cellA)" stroke="#4c56b6" stroke-width="0.90"/>
<ellipse cx="429.12" cy="250.48" rx="2.55" ry="2.21" fill="#5e3a94" opacity="0.5"/>
<ellipse cx="431.77" cy="247.83" rx="1.86" ry="1.57" fill="#d2cdec" opacity="0.75"/>
<circle cx="437.30" cy="246.60" r="3.35" fill="none" stroke="#f2f2ee" stroke-width="0.6"/>
<circle cx="437.30" cy="246.60" r="2.80" fill="url(#cellA)" stroke="#4c56b6" stroke-width="0.70"/>
<ellipse cx="436.85" cy="246.15" rx="1.46" ry="1.26" fill="#5e3a94" opacity="0.5"/>
<ellipse cx="437.86" cy="247.16" rx="1.06" ry="0.90" fill="#d2cdec" opacity="0.75"/>
<circle cx="442.50" cy="250.90" r="3.85" fill="none" stroke="#f2f2ee" stroke-width="0.6"/>
<circle cx="442.50" cy="250.90" r="3.30" fill="url(#cellA)" stroke="#4c56b6" stroke-width="0.79"/>
<ellipse cx="442.24" cy="250.37" rx="1.72" ry="1.48" fill="#5e3a94" opacity="0.5"/>
<ellipse cx="442.83" cy="251.56" rx="1.25" ry="1.06" fill="#d2cdec" opacity="0.75"/>
<circle cx="436.10" cy="254.90" r="4.55" fill="none" stroke="#f2f2ee" stroke-width="0.6"/>
<circle cx="436.10" cy="254.90" r="4.00" fill="url(#cellA)" stroke="#4c56b6" stroke-width="0.90"/>
<ellipse cx="435.78" cy="254.26" rx="2.08" ry="1.80" fill="#5e3a94" opacity="0.5"/>
<ellipse cx="436.50" cy="255.70" rx="1.52" ry="1.28" fill="#d2cdec" opacity="0.75"/>
<circle cx="429.20" cy="257.20" r="3.15" fill="none" stroke="#f2f2ee" stroke-width="0.6"/>
<circle cx="429.20" cy="257.20" r="2.60" fill="url(#cellA)" stroke="#4c56b6" stroke-width="0.67"/>
<ellipse cx="429.20" cy="256.58" rx="1.35" ry="1.17" fill="#5e3a94" opacity="0.5"/>
<ellipse cx="429.20" cy="257.98" rx="0.99" ry="0.83" fill="#d2cdec" opacity="0.75"/>
<circle cx="441.70" cy="259.50" r="3.35" fill="none" stroke="#f2f2ee" stroke-width="0.6"/>
<circle cx="441.70" cy="259.50" r="2.80" fill="url(#cellA)" stroke="#4c56b6" stroke-width="0.70"/>
<ellipse cx="441.48" cy="258.83" rx="1.46" ry="1.26" fill="#5e3a94" opacity="0.5"/>
<ellipse cx="441.98" cy="260.34" rx="1.06" ry="0.90" fill="#d2cdec" opacity="0.75"/>
<circle cx="398.8" cy="226.3" r="0.9" fill="#2c2a88"/>
<circle cx="487.6" cy="229.5" r="3.3" fill="#d6d6c8" stroke="#c4c4b6" stroke-width="0.4"/>
<circle cx="470.9" cy="253.8" r="2.5" fill="#e0e0d0" stroke="#cfcfc0" stroke-width="0.4"/>
<circle cx="494.3" cy="229.2" r="3.3" fill="url(#cellR)" stroke="#8c84a4" stroke-width="0.5"/>
<circle cx="494.3" cy="229.2" r="1.5" fill="url(#nuc)"/>
<circle cx="491.7" cy="235.3" r="4" fill="url(#cellR)" stroke="#8c84a4" stroke-width="0.5"/>
<circle cx="490.7" cy="235.9" r="1.9" fill="url(#nuc)"/>
<circle cx="498" cy="235.9" r="4.8" fill="url(#cellR)" stroke="#8c84a4" stroke-width="0.5"/>
<circle cx="496.6" cy="235.9" r="2.1" fill="url(#nuc)"/>
<circle cx="468.6" cy="242.8" r="3.3" fill="url(#cellR)" stroke="#8c84a4" stroke-width="0.5"/>
<circle cx="468.40000000000003" cy="243.5" r="1.5" fill="url(#nuc)"/>
<circle cx="474.1" cy="246.8" r="3.3" fill="url(#cellR)" stroke="#8c84a4" stroke-width="0.5"/>
<circle cx="474.3" cy="247.0" r="1.6" fill="url(#nuc)"/>
<circle cx="466.8" cy="249.2" r="3.3" fill="url(#cellR)" stroke="#8c84a4" stroke-width="0.5"/>
<circle cx="466.8" cy="249.5" r="1.6" fill="url(#nuc)"/>
<circle cx="470.9" cy="250.9" r="3.3" fill="url(#cellR)" stroke="#8c84a4" stroke-width="0.5"/>
<circle cx="471.2" cy="250.9" r="1.5" fill="url(#nuc)"/>
<ellipse cx="491" cy="220" rx="1.8" ry="0.7" fill="#4a4aa0" opacity="0.8"/>
<ellipse cx="502" cy="262.6" rx="1.8" ry="0.7" fill="#4a4aa0" opacity="0.8"/>
<ellipse cx="445" cy="266.5" rx="6" ry="2.5" fill="#b99ccc" opacity="0.6"/>
<circle cx="415.90" cy="273.20" r="6.85" fill="none" stroke="#f2f2ee" stroke-width="0.6"/>
<circle cx="415.90" cy="273.20" r="6.30" fill="url(#cellB)" stroke="#4c56b6" stroke-width="0.90"/>
<ellipse cx="417.66" cy="274.96" rx="3.28" ry="2.83" fill="#5e3a94" opacity="0.5"/>
<ellipse cx="413.69" cy="271.00" rx="2.39" ry="2.02" fill="#d2cdec" opacity="0.75"/>
<circle cx="406.10" cy="279.00" r="5.05" fill="none" stroke="#f2f2ee" stroke-width="0.6"/>
<circle cx="406.10" cy="279.00" r="4.50" fill="url(#cellB)" stroke="#4c56b6" stroke-width="0.90"/>
<ellipse cx="406.46" cy="280.08" rx="2.34" ry="2.02" fill="#5e3a94" opacity="0.5"/>
<ellipse cx="405.65" cy="277.65" rx="1.71" ry="1.44" fill="#d2cdec" opacity="0.75"/>
<circle cx="413.60" cy="286.50" r="6.55" fill="none" stroke="#f2f2ee" stroke-width="0.6"/>
<circle cx="413.60" cy="286.50" r="6.00" fill="url(#cellB)" stroke="#4c56b6" stroke-width="0.90"/>
<ellipse cx="414.56" cy="288.18" rx="3.12" ry="2.70" fill="#5e3a94" opacity="0.5"/>
<ellipse cx="412.40" cy="284.40" rx="2.28" ry="1.92" fill="#d2cdec" opacity="0.75"/>
<circle cx="425.20" cy="285.30" r="5.15" fill="none" stroke="#f2f2ee" stroke-width="0.6"/>
<circle cx="425.20" cy="285.30" r="4.60" fill="url(#cellB)" stroke="#4c56b6" stroke-width="0.90"/>
<ellipse cx="425.94" cy="284.01" rx="2.39" ry="2.07" fill="#5e3a94" opacity="0.5"/>
<ellipse cx="424.28" cy="286.91" rx="1.75" ry="1.47" fill="#d2cdec" opacity="0.75"/>
<circle cx="436.10" cy="270.30" r="5.55" fill="none" stroke="#f2f2ee" stroke-width="0.6"/>
<circle cx="436.10" cy="270.30" r="5.00" fill="url(#cellB)" stroke="#4c56b6" stroke-width="0.90"/>
<ellipse cx="436.10" cy="271.90" rx="2.60" ry="2.25" fill="#5e3a94" opacity="0.5"/>
<ellipse cx="436.10" cy="268.30" rx="1.90" ry="1.60" fill="#d2cdec" opacity="0.75"/>
<circle cx="441.10" cy="277.80" r="5.05" fill="none" stroke="#f2f2ee" stroke-width="0.6"/>
<circle cx="441.10" cy="277.80" r="4.50" fill="url(#cellB)" stroke="#4c56b6" stroke-width="0.90"/>
<ellipse cx="440.38" cy="278.88" rx="2.34" ry="2.02" fill="#5e3a94" opacity="0.5"/>
<ellipse cx="442.00" cy="276.45" rx="1.71" ry="1.44" fill="#d2cdec" opacity="0.75"/>
<circle cx="436.70" cy="294.60" r="5.35" fill="none" stroke="#f2f2ee" stroke-width="0.6"/>
<circle cx="436.70" cy="294.60" r="4.80" fill="url(#cellB)" stroke="#4c56b6" stroke-width="0.90"/>
<ellipse cx="435.36" cy="294.22" rx="2.50" ry="2.16" fill="#5e3a94" opacity="0.5"/>
<ellipse cx="438.38" cy="295.08" rx="1.82" ry="1.54" fill="#d2cdec" opacity="0.75"/>
<circle cx="414.20" cy="301.50" r="4.95" fill="none" stroke="#f2f2ee" stroke-width="0.6"/>
<circle cx="414.20" cy="301.50" r="4.40" fill="url(#cellB)" stroke="#4c56b6" stroke-width="0.90"/>
<ellipse cx="414.55" cy="302.73" rx="2.29" ry="1.98" fill="#5e3a94" opacity="0.5"/>
<ellipse cx="413.76" cy="299.96" rx="1.67" ry="1.41" fill="#d2cdec" opacity="0.75"/>
<ellipse cx="407.8" cy="292.8" rx="1.2" ry="1.6" fill="#7078c8" opacity="0.7"/>
<ellipse cx="452.3" cy="281.3" rx="0.8" ry="1.5" fill="#7078c8" opacity="0.7"/>
<circle cx="458.80" cy="278.40" r="4.35" fill="none" stroke="#f2f2ee" stroke-width="0.6"/>
<circle cx="458.80" cy="278.40" r="3.80" fill="url(#cellB)" stroke="#4c56b6" stroke-width="0.88"/>
<ellipse cx="458.50" cy="279.31" rx="1.98" ry="1.71" fill="#5e3a94" opacity="0.5"/>
<ellipse cx="459.18" cy="277.26" rx="1.44" ry="1.22" fill="#d2cdec" opacity="0.75"/>
<circle cx="465.70" cy="283.00" r="4.55" fill="none" stroke="#f2f2ee" stroke-width="0.6"/>
<circle cx="465.70" cy="283.00" r="4.00" fill="url(#cellB)" stroke="#4c56b6" stroke-width="0.90"/>
<ellipse cx="466.02" cy="282.04" rx="2.08" ry="1.80" fill="#5e3a94" opacity="0.5"/>
<ellipse cx="465.30" cy="284.20" rx="1.52" ry="1.28" fill="#d2cdec" opacity="0.75"/>
<circle cx="482.40" cy="271.50" r="5.55" fill="none" stroke="#f2f2ee" stroke-width="0.6"/>
<circle cx="482.40" cy="271.50" r="5.00" fill="url(#cellB)" stroke="#4c56b6" stroke-width="0.90"/>
<ellipse cx="482.40" cy="273.10" rx="2.60" ry="2.25" fill="#5e3a94" opacity="0.5"/>
<ellipse cx="482.40" cy="269.50" rx="1.90" ry="1.60" fill="#d2cdec" opacity="0.75"/>
<circle cx="477.20" cy="280.20" r="6.05" fill="none" stroke="#f2f2ee" stroke-width="0.6"/>
<circle cx="477.20" cy="280.20" r="5.50" fill="url(#cellB)" stroke="#4c56b6" stroke-width="0.90"/>
<ellipse cx="478.52" cy="281.52" rx="2.86" ry="2.48" fill="#5e3a94" opacity="0.5"/>
<ellipse cx="475.55" cy="278.55" rx="2.09" ry="1.76" fill="#d2cdec" opacity="0.75"/>
<circle cx="488.80" cy="280.70" r="5.55" fill="none" stroke="#f2f2ee" stroke-width="0.6"/>
<circle cx="488.80" cy="280.70" r="5.00" fill="url(#cellB)" stroke="#4c56b6" stroke-width="0.90"/>
<ellipse cx="488.40" cy="281.90" rx="2.60" ry="2.25" fill="#5e3a94" opacity="0.5"/>
<ellipse cx="489.30" cy="279.20" rx="1.90" ry="1.60" fill="#d2cdec" opacity="0.75"/>
<circle cx="484.20" cy="289.40" r="5.55" fill="none" stroke="#f2f2ee" stroke-width="0.6"/>
<circle cx="484.20" cy="289.40" r="5.00" fill="url(#cellB)" stroke="#4c56b6" stroke-width="0.90"/>
<ellipse cx="485.40" cy="290.60" rx="2.60" ry="2.25" fill="#5e3a94" opacity="0.5"/>
<ellipse cx="482.70" cy="287.90" rx="1.90" ry="1.60" fill="#d2cdec" opacity="0.75"/>
<circle cx="495.10" cy="290.80" r="5.05" fill="none" stroke="#f2f2ee" stroke-width="0.6"/>
<circle cx="495.10" cy="290.80" r="4.50" fill="url(#cellB)" stroke="#4c56b6" stroke-width="0.90"/>
<ellipse cx="494.74" cy="291.88" rx="2.34" ry="2.02" fill="#5e3a94" opacity="0.5"/>
<ellipse cx="495.55" cy="289.45" rx="1.71" ry="1.44" fill="#d2cdec" opacity="0.75"/>
<circle cx="487.60" cy="298.60" r="5.55" fill="none" stroke="#f2f2ee" stroke-width="0.6"/>
<circle cx="487.60" cy="298.60" r="5.00" fill="url(#cellB)" stroke="#4c56b6" stroke-width="0.90"/>
<ellipse cx="487.60" cy="300.00" rx="2.60" ry="2.25" fill="#5e3a94" opacity="0.5"/>
<ellipse cx="487.60" cy="296.85" rx="1.90" ry="1.60" fill="#d2cdec" opacity="0.75"/>
<circle cx="496.80" cy="302.10" r="5.85" fill="none" stroke="#f2f2ee" stroke-width="0.6"/>
<circle cx="496.80" cy="302.10" r="5.30" fill="url(#cellB)" stroke="#4c56b6" stroke-width="0.90"/>
<ellipse cx="496.80" cy="303.58" rx="2.76" ry="2.38" fill="#5e3a94" opacity="0.5"/>
<ellipse cx="496.80" cy="300.25" rx="2.01" ry="1.70" fill="#d2cdec" opacity="0.75"/>
<circle cx="497.4" cy="281.3" r="2.4" fill="#5a44a0" stroke="#3c3c9c" stroke-width="0.5"/>
<ellipse cx="498.3" cy="281.8" rx="0.9" ry="0.8" fill="#b8b0e0" opacity="0.7"/>
<circle cx="490.5" cy="269.2" r="1.1" fill="#7070c0"/>
</g>
<text x="507.80" y="301.80" font-size="3.6" text-anchor="middle" fill="#111" stroke="#111" stroke-width="0.10" >10μm</text>
<line x1="503.80" y1="304.40" x2="512.30" y2="304.40" stroke="#111" stroke-width="1.1" />
<g shape-rendering="crispEdges">
<rect x="0" y="1" width="520" height="1" fill="#a0a0a0"/>
<rect x="0" y="419" width="520" height="1" fill="#858585"/>
<rect x="517" y="0" width="1" height="421" fill="#dcdcdc"/>
<rect x="1" y="0" width="1" height="421" fill="#7a7a7a"/>
<rect x="518" y="0" width="1" height="421" fill="#5a5a5a"/>
<rect x="0" y="0" width="520" height="1" fill="#0c0c0c"/>
<rect x="0" y="420" width="520" height="1" fill="#050505"/>
<rect x="0" y="0" width="1" height="421" fill="#0c0c0c"/>
<rect x="519" y="0" width="1" height="421" fill="#0c0c0c"/>
</g>
</svg></body></html>
